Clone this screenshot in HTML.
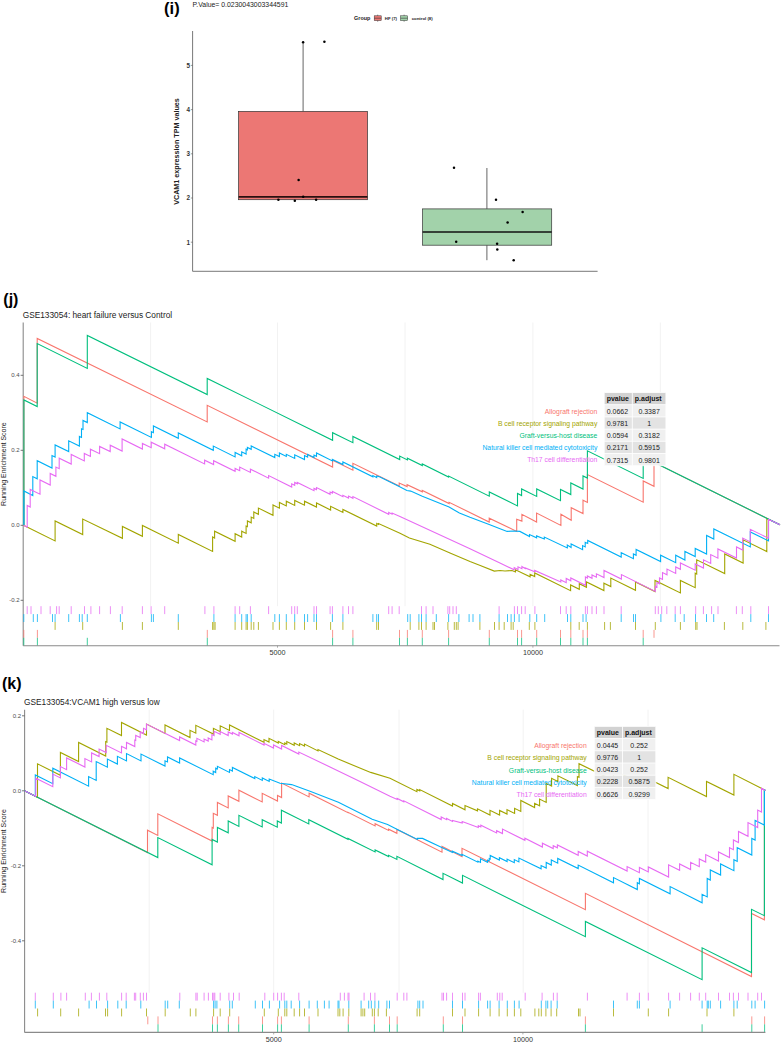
<!DOCTYPE html>
<html><head><meta charset="utf-8"><style>
html,body{margin:0;padding:0;background:#fff;}
svg{display:block;font-family:"Liberation Sans",sans-serif;}
</style></head><body>
<svg width="781" height="1043" viewBox="0 0 781 1043">
<rect width="781" height="1043" fill="#fff"/>
<text x="164.1" y="13.7" font-size="16.5" font-weight="bold" fill="#000">(i)</text>
<text x="192.6" y="6.7" font-size="6.9" fill="#222">P.Value= 0.0230043003344591</text>
<text x="354.1" y="19.9" font-size="5.4" font-weight="bold" fill="#222">Group</text>
<line x1="377.7" y1="14.6" x2="377.7" y2="21.8" stroke="#333" stroke-width="0.5"/>
<rect x="374.2" y="15.8" width="7" height="4.8" fill="#EC7774" stroke="#333" stroke-width="0.5"/>
<line x1="374.2" y1="18.2" x2="381.2" y2="18.2" stroke="#333" stroke-width="0.6"/>
<line x1="404.09999999999997" y1="14.6" x2="404.09999999999997" y2="21.8" stroke="#333" stroke-width="0.5"/>
<rect x="400.59999999999997" y="15.8" width="7" height="4.8" fill="#A2D2AA" stroke="#333" stroke-width="0.5"/>
<line x1="400.59999999999997" y1="18.2" x2="407.59999999999997" y2="18.2" stroke="#333" stroke-width="0.6"/>
<text x="384.8" y="19.5" font-size="4.3" font-weight="bold" fill="#222">HF (7)</text>
<text x="411.7" y="19.5" font-size="4.3" font-weight="bold" fill="#222">control (8)</text>
<line x1="192.6" y1="31" x2="192.6" y2="271.3" stroke="#555" stroke-width="0.8"/>
<line x1="192.6" y1="271.3" x2="597.6" y2="271.3" stroke="#555" stroke-width="0.8"/>
<line x1="190.8" y1="242.2" x2="192.6" y2="242.2" stroke="#555" stroke-width="0.6"/>
<text x="189.9" y="244.5" font-size="6.3" font-weight="bold" fill="#333" text-anchor="end">1</text>
<line x1="190.8" y1="198.0" x2="192.6" y2="198.0" stroke="#555" stroke-width="0.6"/>
<text x="189.9" y="200.3" font-size="6.3" font-weight="bold" fill="#333" text-anchor="end">2</text>
<line x1="190.8" y1="153.8" x2="192.6" y2="153.8" stroke="#555" stroke-width="0.6"/>
<text x="189.9" y="156.1" font-size="6.3" font-weight="bold" fill="#333" text-anchor="end">3</text>
<line x1="190.8" y1="109.6" x2="192.6" y2="109.6" stroke="#555" stroke-width="0.6"/>
<text x="189.9" y="111.9" font-size="6.3" font-weight="bold" fill="#333" text-anchor="end">4</text>
<line x1="190.8" y1="65.4" x2="192.6" y2="65.4" stroke="#555" stroke-width="0.6"/>
<text x="189.9" y="67.7" font-size="6.3" font-weight="bold" fill="#333" text-anchor="end">5</text>
<text transform="translate(178.7,151.5) rotate(-90)" font-size="7.2" font-weight="bold" fill="#222" text-anchor="middle">VCAM1 expression TPM values</text>
<line x1="303.1" y1="42.3" x2="303.1" y2="111.6" stroke="#555" stroke-width="0.9"/>
<rect x="238.6" y="111.4" width="128.9" height="88.3" fill="#EC7774" stroke="#333" stroke-width="0.7"/>
<line x1="238.6" y1="196.8" x2="367.5" y2="196.8" stroke="#2a1010" stroke-width="1.7"/>
<line x1="486.9" y1="168" x2="486.9" y2="208.9" stroke="#555" stroke-width="0.9"/>
<line x1="486.9" y1="245.2" x2="486.9" y2="260.2" stroke="#555" stroke-width="0.9"/>
<rect x="422.6" y="208.9" width="129.1" height="36.3" fill="#A2D2AA" stroke="#333" stroke-width="0.7"/>
<line x1="422.6" y1="232" x2="551.7" y2="232" stroke="#111" stroke-width="1.3"/>
<circle cx="303.1" cy="42.3" r="1.25" fill="#000"/>
<circle cx="324.4" cy="41.8" r="1.25" fill="#000"/>
<circle cx="298.6" cy="180.1" r="1.25" fill="#000"/>
<circle cx="278.4" cy="199.7" r="1.25" fill="#000"/>
<circle cx="294.8" cy="200.8" r="1.25" fill="#000"/>
<circle cx="303.2" cy="196.8" r="1.25" fill="#000"/>
<circle cx="316.1" cy="199.7" r="1.25" fill="#000"/>
<circle cx="454" cy="167.7" r="1.25" fill="#000"/>
<circle cx="496" cy="199.7" r="1.25" fill="#000"/>
<circle cx="522.6" cy="212.1" r="1.25" fill="#000"/>
<circle cx="507.6" cy="222.6" r="1.25" fill="#000"/>
<circle cx="456.2" cy="241.7" r="1.25" fill="#000"/>
<circle cx="497.1" cy="243.8" r="1.25" fill="#000"/>
<circle cx="497.3" cy="249.5" r="1.25" fill="#000"/>
<circle cx="513.7" cy="260.2" r="1.25" fill="#000"/>
<line x1="150.6" y1="322.5" x2="150.6" y2="606.2" stroke="#f1f1f1" stroke-width="0.9"/>
<line x1="277.5" y1="322.5" x2="277.5" y2="606.2" stroke="#f1f1f1" stroke-width="0.9"/>
<line x1="405.1" y1="322.5" x2="405.1" y2="606.2" stroke="#f1f1f1" stroke-width="0.9"/>
<line x1="532.9" y1="322.5" x2="532.9" y2="606.2" stroke="#f1f1f1" stroke-width="0.9"/>
<line x1="660.4" y1="322.5" x2="660.4" y2="606.2" stroke="#f1f1f1" stroke-width="0.9"/>
<line x1="23.2" y1="322.5" x2="23.2" y2="645.7" stroke="#8a8a8a" stroke-width="1.1"/>
<path d="M23.9,525.3L23.9,525.3L23.9,396.3L37.2,403.2L37.2,338.4L207.2,421.9L207.2,405.3L332.6,467.1L332.6,460.2L352.9,470.2L352.9,463.3L399.2,486.0L399.2,483.1L407.1,486.6L407.1,484.7L422.3,491.8L422.3,490.5L449.1,503.5L449.1,502.3L489.2,522.0L489.2,518.2L516.7,531.4L516.7,519.2L521.9,521.1L521.9,514.3L536.6,522.0L536.6,513.1L560.9,525.4L560.9,514.3L571.2,520.2L571.2,507.7L583.0,513.5L583.0,500.2L587.4,502.4L587.4,474.6L643.2,502.2L643.2,481.0L654.0,486.3L654.0,462.3L780.0,524.8" fill="none" stroke="#F8766D" stroke-width="1.1" stroke-linejoin="miter"/>

<path d="M23.5,525.3L55.1,540.9L55.1,520.9L82.7,534.5L82.7,519.1L122.4,538.3L122.4,526.5L142.4,536.3L142.4,525.5L178.3,543.2L178.3,534.5L212.6,551.4L212.6,537.0L214.6,538.0L214.6,531.2L235.1,541.3L235.1,533.7L241.7,537.0L241.7,531.2L246.1,533.4L246.1,526.0L247.4,526.6L247.4,520.9L251.2,522.8L251.2,517.1L253.8,518.4L253.8,512.0L258.4,514.3L258.4,508.1L273.0,515.3L273.0,505.0L279.4,508.2L279.4,502.5L286.3,505.9L286.3,501.2L294.7,505.4L294.7,500.4L304.5,505.2L304.5,501.2L316.5,507.1L316.5,503.0L330.6,510.0L330.6,506.3L342.9,512.4L342.9,509.4L376.7,526.1L376.7,523.5L378.5,524.4L378.5,523.5L400.0,533.2L409.4,537.9L429.9,544.3L450.0,553.0L470.0,561.5L479.6,565.3L494.3,571.1L500.0,570.5L505.0,571.0L512.0,570.5L515.5,572.0L515.5,569.8L530.1,576.8L530.1,574.3L534.7,576.6L534.7,573.0L570.6,590.7L570.6,585.0L579.3,589.3L579.3,583.7L586.5,587.3L586.5,582.0L603.9,590.6L603.9,583.2L610.8,586.6L610.8,578.1L635.5,590.3L635.5,582.0L655.0,591.6L655.0,580.4L680.4,592.9L680.4,580.4L695.2,587.7L695.2,573.2L696.7,574.0L696.7,559.8L724.7,573.6L724.7,554.0L743.1,563.1L743.1,539.8L766.8,551.5L766.8,518.6L780.0,524.8" fill="none" stroke="#A3A500" stroke-width="1.1" stroke-linejoin="miter"/>

<path d="M23.9,525.3L23.9,525.3L23.9,399.9L37.2,406.6L37.2,343.6L87.3,368.4L87.3,335.4L207.2,394.6L207.2,378.4L332.6,440.3L332.6,432.7L352.9,442.7L352.9,436.4L399.7,459.5L399.7,456.1L407.4,459.9L407.4,458.2L422.3,465.6L422.3,464.0L448.6,477.0L448.6,476.1L489.3,496.2L489.3,492.0L517.5,505.9L517.5,493.5L521.6,495.5L521.6,488.9L536.7,496.4L536.7,488.9L560.5,500.7L560.5,489.4L570.8,494.5L570.8,483.0L583.0,489.0L583.0,475.9L587.4,478.1L587.4,450.8L643.2,478.4L643.2,457.0L767.2,518.4L780.0,524.8" fill="none" stroke="#00BF7D" stroke-width="1.1" stroke-linejoin="miter"/>

<path d="M23.9,525.3L23.9,525.3L23.9,491.0L32.8,495.6L32.8,476.6L37.2,478.8L37.2,460.7L52.0,468.0L52.0,455.6L55.1,457.1L55.1,444.9L68.7,451.6L68.7,440.8L79.4,446.1L79.4,436.4L81.5,437.4L81.5,428.8L83.0,429.5L83.0,420.4L87.3,422.5L87.3,412.7L120.1,428.9L120.1,421.9L151.4,437.4L151.4,431.7L153.4,432.7L153.4,426.0L178.3,438.3L178.3,433.0L213.3,450.3L213.3,446.1L235.1,456.9L235.1,452.5L241.7,455.8L241.7,451.8L246.1,454.0L246.1,449.2L247.4,449.8L247.4,447.4L251.2,449.3L251.2,445.9L274.8,457.6L274.8,454.3L279.4,456.6L279.4,453.0L286.3,456.4L286.3,454.3L294.7,458.4L294.7,454.8L304.5,459.6L304.5,455.6L307.6,457.1L307.6,454.3L314.0,457.5L314.0,455.1L316.5,456.3L316.5,453.0L332.4,460.9L332.4,459.4L342.9,464.6L342.9,462.0L372.9,476.8L372.9,475.6L376.7,477.5L376.7,476.0L380.0,477.0L399.2,486.4L406.9,490.5L410.7,491.1L422.3,496.2L449.1,507.1L459.4,512.9L470.0,517.3L489.2,524.6L499.4,528.4L507.1,531.4L513.5,531.0L519.9,531.4L529.5,536.5L529.5,534.6L536.6,537.8L536.6,535.9L544.3,539.0L544.3,537.1L567.3,548.0L567.3,545.1L571.1,547.5L571.1,544.0L582.6,549.7L582.6,545.6L585.2,546.9L585.2,542.3L587.7,543.5L587.7,540.5L621.2,557.0L621.2,552.7L633.4,558.7L633.4,554.0L636.1,555.3L636.1,549.5L660.6,561.6L660.6,555.2L675.7,562.7L675.7,555.2L684.9,560.0L684.9,551.5L695.2,556.6L695.2,548.4L706.6,554.0L706.6,535.5L713.8,539.1L713.8,528.9L750.3,546.9L750.3,532.0L768.5,540.9L768.5,519.3L780.0,524.8" fill="none" stroke="#00B0F6" stroke-width="1.1" stroke-linejoin="miter"/>

<path d="M23.5,525.3L27.2,527.2L27.2,505.5L30.2,507.0L30.2,489.4L40.0,494.2L40.0,480.0L50.2,485.0L50.2,473.5L55.9,476.3L55.9,467.1L59.2,468.7L59.2,458.2L71.2,464.1L71.2,454.4L84.3,460.9L84.3,453.4L90.4,456.4L90.4,449.2L99.6,453.7L99.6,446.4L110.2,451.6L110.2,445.2L122.1,451.1L122.1,439.0L142.4,449.0L142.4,443.4L151.2,447.7L151.2,442.2L164.7,448.8L164.7,444.2L204.6,463.9L204.6,460.2L213.6,464.6L213.6,460.7L235.1,471.3L235.1,468.4L239.7,470.7L239.7,467.1L250.4,472.4L250.4,469.2L268.6,478.2L268.6,475.6L291.7,487.0L291.7,483.8L294.7,485.3L294.7,482.5L297.3,483.8L297.3,482.5L314.0,490.7L314.0,488.4L316.5,489.6L316.5,487.6L330.1,494.3L330.1,492.0L332.4,493.1L332.4,491.5L342.9,496.7L342.9,495.3L348.5,498.0L348.5,496.1L352.9,498.3L352.9,496.6L388.7,514.3L388.7,512.5L392.1,514.2L392.1,513.0L400.5,516.7L470.0,548.7L499.4,562.7L514.2,569.8L514.2,567.6L518.0,569.5L518.0,566.8L521.9,568.7L521.9,566.5L525.1,568.5L525.1,567.9L534.7,571.7L534.7,570.4L560.8,582.0L560.8,580.0L566.2,582.7L566.2,578.5L570.8,580.8L570.8,578.0L585.4,585.3L585.4,577.0L587.4,578.0L587.4,576.0L592.0,578.3L592.0,575.0L596.4,577.2L596.4,573.8L604.0,577.6L604.0,570.5L621.4,579.0L621.4,574.6L655.3,591.4L655.3,586.2L656.9,587.0L656.9,582.5L659.5,583.8L659.5,577.9L662.5,579.4L662.5,572.6L667.0,574.8L667.0,569.1L675.7,573.4L675.7,567.0L680.4,569.3L680.4,562.9L695.2,570.2L695.2,563.9L703.5,568.0L703.5,559.8L710.7,563.4L710.7,554.6L717.9,558.2L717.9,548.9L736.5,558.1L736.5,547.0L742.7,550.1L742.7,538.1L750.3,541.9L750.3,529.3L768.5,538.2L768.5,519.3L780.0,524.8" fill="none" stroke="#E76BF3" stroke-width="1.1" stroke-linejoin="miter"/>

<line x1="27.2" y1="606.2" x2="27.2" y2="614.1" stroke="#E76BF3" stroke-width="1" opacity="0.75"/>
<line x1="31.0" y1="606.2" x2="31.0" y2="614.1" stroke="#E76BF3" stroke-width="1" opacity="0.75"/>
<line x1="41.0" y1="606.2" x2="41.0" y2="614.1" stroke="#E76BF3" stroke-width="1" opacity="0.75"/>
<line x1="50.2" y1="606.2" x2="50.2" y2="614.1" stroke="#E76BF3" stroke-width="1" opacity="0.75"/>
<line x1="56.6" y1="606.2" x2="56.6" y2="614.1" stroke="#E76BF3" stroke-width="1" opacity="0.75"/>
<line x1="59.2" y1="606.2" x2="59.2" y2="614.1" stroke="#E76BF3" stroke-width="1" opacity="0.75"/>
<line x1="71.2" y1="606.2" x2="71.2" y2="614.1" stroke="#E76BF3" stroke-width="1" opacity="0.75"/>
<line x1="84.5" y1="606.2" x2="84.5" y2="614.1" stroke="#E76BF3" stroke-width="1" opacity="0.75"/>
<line x1="90.9" y1="606.2" x2="90.9" y2="614.1" stroke="#E76BF3" stroke-width="1" opacity="0.75"/>
<line x1="99.6" y1="606.2" x2="99.6" y2="614.1" stroke="#E76BF3" stroke-width="1" opacity="0.75"/>
<line x1="110.4" y1="606.2" x2="110.4" y2="614.1" stroke="#E76BF3" stroke-width="1" opacity="0.75"/>
<line x1="122.2" y1="606.2" x2="122.2" y2="614.1" stroke="#E76BF3" stroke-width="1" opacity="0.75"/>
<line x1="142.4" y1="606.2" x2="142.4" y2="614.1" stroke="#E76BF3" stroke-width="1" opacity="0.75"/>
<line x1="151.1" y1="606.2" x2="151.1" y2="614.1" stroke="#E76BF3" stroke-width="1" opacity="0.75"/>
<line x1="164.7" y1="606.2" x2="164.7" y2="614.1" stroke="#E76BF3" stroke-width="1" opacity="0.75"/>
<line x1="204.9" y1="606.2" x2="204.9" y2="614.1" stroke="#E76BF3" stroke-width="1" opacity="0.75"/>
<line x1="213.9" y1="606.2" x2="213.9" y2="614.1" stroke="#E76BF3" stroke-width="1" opacity="0.75"/>
<line x1="235.1" y1="606.2" x2="235.1" y2="614.1" stroke="#E76BF3" stroke-width="1" opacity="0.75"/>
<line x1="239.7" y1="606.2" x2="239.7" y2="614.1" stroke="#E76BF3" stroke-width="1" opacity="0.75"/>
<line x1="250.4" y1="606.2" x2="250.4" y2="614.1" stroke="#E76BF3" stroke-width="1" opacity="0.75"/>
<line x1="268.6" y1="606.2" x2="268.6" y2="614.1" stroke="#E76BF3" stroke-width="1" opacity="0.75"/>
<line x1="291.7" y1="606.2" x2="291.7" y2="614.1" stroke="#E76BF3" stroke-width="1" opacity="0.75"/>
<line x1="294.7" y1="606.2" x2="294.7" y2="614.1" stroke="#E76BF3" stroke-width="1" opacity="0.75"/>
<line x1="297.3" y1="606.2" x2="297.3" y2="614.1" stroke="#E76BF3" stroke-width="1" opacity="0.75"/>
<line x1="314.0" y1="606.2" x2="314.0" y2="614.1" stroke="#E76BF3" stroke-width="1" opacity="0.75"/>
<line x1="316.5" y1="606.2" x2="316.5" y2="614.1" stroke="#E76BF3" stroke-width="1" opacity="0.75"/>
<line x1="330.1" y1="606.2" x2="330.1" y2="614.1" stroke="#E76BF3" stroke-width="1" opacity="0.75"/>
<line x1="332.4" y1="606.2" x2="332.4" y2="614.1" stroke="#E76BF3" stroke-width="1" opacity="0.75"/>
<line x1="342.9" y1="606.2" x2="342.9" y2="614.1" stroke="#E76BF3" stroke-width="1" opacity="0.75"/>
<line x1="348.5" y1="606.2" x2="348.5" y2="614.1" stroke="#E76BF3" stroke-width="1" opacity="0.75"/>
<line x1="352.9" y1="606.2" x2="352.9" y2="614.1" stroke="#E76BF3" stroke-width="1" opacity="0.75"/>
<line x1="388.7" y1="606.2" x2="388.7" y2="614.1" stroke="#E76BF3" stroke-width="1" opacity="0.75"/>
<line x1="392.1" y1="606.2" x2="392.1" y2="614.1" stroke="#E76BF3" stroke-width="1" opacity="0.75"/>
<line x1="399.2" y1="606.2" x2="399.2" y2="614.1" stroke="#E76BF3" stroke-width="1" opacity="0.75"/>
<line x1="421.5" y1="606.2" x2="421.5" y2="614.1" stroke="#E76BF3" stroke-width="1" opacity="0.75"/>
<line x1="426.1" y1="606.2" x2="426.1" y2="614.1" stroke="#E76BF3" stroke-width="1" opacity="0.75"/>
<line x1="433.0" y1="606.2" x2="433.0" y2="614.1" stroke="#E76BF3" stroke-width="1" opacity="0.75"/>
<line x1="447.9" y1="606.2" x2="447.9" y2="614.1" stroke="#E76BF3" stroke-width="1" opacity="0.75"/>
<line x1="449.7" y1="606.2" x2="449.7" y2="614.1" stroke="#E76BF3" stroke-width="1" opacity="0.75"/>
<line x1="453.0" y1="606.2" x2="453.0" y2="614.1" stroke="#E76BF3" stroke-width="1" opacity="0.75"/>
<line x1="456.3" y1="606.2" x2="456.3" y2="614.1" stroke="#E76BF3" stroke-width="1" opacity="0.75"/>
<line x1="499.1" y1="606.2" x2="499.1" y2="614.1" stroke="#E76BF3" stroke-width="1" opacity="0.75"/>
<line x1="514.4" y1="606.2" x2="514.4" y2="614.1" stroke="#E76BF3" stroke-width="1" opacity="0.75"/>
<line x1="517.5" y1="606.2" x2="517.5" y2="614.1" stroke="#E76BF3" stroke-width="1" opacity="0.75"/>
<line x1="521.6" y1="606.2" x2="521.6" y2="614.1" stroke="#E76BF3" stroke-width="1" opacity="0.75"/>
<line x1="525.2" y1="606.2" x2="525.2" y2="614.1" stroke="#E76BF3" stroke-width="1" opacity="0.75"/>
<line x1="534.9" y1="606.2" x2="534.9" y2="614.1" stroke="#E76BF3" stroke-width="1" opacity="0.75"/>
<line x1="560.5" y1="606.2" x2="560.5" y2="614.1" stroke="#E76BF3" stroke-width="1" opacity="0.75"/>
<line x1="566.2" y1="606.2" x2="566.2" y2="614.1" stroke="#E76BF3" stroke-width="1" opacity="0.75"/>
<line x1="570.8" y1="606.2" x2="570.8" y2="614.1" stroke="#E76BF3" stroke-width="1" opacity="0.75"/>
<line x1="585.4" y1="606.2" x2="585.4" y2="614.1" stroke="#E76BF3" stroke-width="1" opacity="0.75"/>
<line x1="587.4" y1="606.2" x2="587.4" y2="614.1" stroke="#E76BF3" stroke-width="1" opacity="0.75"/>
<line x1="592.0" y1="606.2" x2="592.0" y2="614.1" stroke="#E76BF3" stroke-width="1" opacity="0.75"/>
<line x1="596.4" y1="606.2" x2="596.4" y2="614.1" stroke="#E76BF3" stroke-width="1" opacity="0.75"/>
<line x1="604.0" y1="606.2" x2="604.0" y2="614.1" stroke="#E76BF3" stroke-width="1" opacity="0.75"/>
<line x1="621.2" y1="606.2" x2="621.2" y2="614.1" stroke="#E76BF3" stroke-width="1" opacity="0.75"/>
<line x1="655.3" y1="606.2" x2="655.3" y2="614.1" stroke="#E76BF3" stroke-width="1" opacity="0.75"/>
<line x1="658.3" y1="606.2" x2="658.3" y2="614.1" stroke="#E76BF3" stroke-width="1" opacity="0.75"/>
<line x1="661.7" y1="606.2" x2="661.7" y2="614.1" stroke="#E76BF3" stroke-width="1" opacity="0.75"/>
<line x1="666.8" y1="606.2" x2="666.8" y2="614.1" stroke="#E76BF3" stroke-width="1" opacity="0.75"/>
<line x1="675.2" y1="606.2" x2="675.2" y2="614.1" stroke="#E76BF3" stroke-width="1" opacity="0.75"/>
<line x1="680.4" y1="606.2" x2="680.4" y2="614.1" stroke="#E76BF3" stroke-width="1" opacity="0.75"/>
<line x1="695.7" y1="606.2" x2="695.7" y2="614.1" stroke="#E76BF3" stroke-width="1" opacity="0.75"/>
<line x1="703.4" y1="606.2" x2="703.4" y2="614.1" stroke="#E76BF3" stroke-width="1" opacity="0.75"/>
<line x1="711.6" y1="606.2" x2="711.6" y2="614.1" stroke="#E76BF3" stroke-width="1" opacity="0.75"/>
<line x1="718.0" y1="606.2" x2="718.0" y2="614.1" stroke="#E76BF3" stroke-width="1" opacity="0.75"/>
<line x1="736.4" y1="606.2" x2="736.4" y2="614.1" stroke="#E76BF3" stroke-width="1" opacity="0.75"/>
<line x1="742.3" y1="606.2" x2="742.3" y2="614.1" stroke="#E76BF3" stroke-width="1" opacity="0.75"/>
<line x1="750.8" y1="606.2" x2="750.8" y2="614.1" stroke="#E76BF3" stroke-width="1" opacity="0.75"/>
<line x1="768.5" y1="606.2" x2="768.5" y2="614.1" stroke="#E76BF3" stroke-width="1" opacity="0.75"/>
<line x1="23.8" y1="614.1" x2="23.8" y2="622.0" stroke="#00B0F6" stroke-width="1" opacity="0.75"/>
<line x1="33.3" y1="614.1" x2="33.3" y2="622.0" stroke="#00B0F6" stroke-width="1" opacity="0.75"/>
<line x1="37.4" y1="614.1" x2="37.4" y2="622.0" stroke="#00B0F6" stroke-width="1" opacity="0.75"/>
<line x1="52.5" y1="614.1" x2="52.5" y2="622.0" stroke="#00B0F6" stroke-width="1" opacity="0.75"/>
<line x1="55.1" y1="614.1" x2="55.1" y2="622.0" stroke="#00B0F6" stroke-width="1" opacity="0.75"/>
<line x1="68.7" y1="614.1" x2="68.7" y2="622.0" stroke="#00B0F6" stroke-width="1" opacity="0.75"/>
<line x1="79.4" y1="614.1" x2="79.4" y2="622.0" stroke="#00B0F6" stroke-width="1" opacity="0.75"/>
<line x1="82.2" y1="614.1" x2="82.2" y2="622.0" stroke="#00B0F6" stroke-width="1" opacity="0.75"/>
<line x1="87.3" y1="614.1" x2="87.3" y2="622.0" stroke="#00B0F6" stroke-width="1" opacity="0.75"/>
<line x1="120.4" y1="614.1" x2="120.4" y2="622.0" stroke="#00B0F6" stroke-width="1" opacity="0.75"/>
<line x1="151.4" y1="614.1" x2="151.4" y2="622.0" stroke="#00B0F6" stroke-width="1" opacity="0.75"/>
<line x1="153.4" y1="614.1" x2="153.4" y2="622.0" stroke="#00B0F6" stroke-width="1" opacity="0.75"/>
<line x1="178.3" y1="614.1" x2="178.3" y2="622.0" stroke="#00B0F6" stroke-width="1" opacity="0.75"/>
<line x1="213.9" y1="614.1" x2="213.9" y2="622.0" stroke="#00B0F6" stroke-width="1" opacity="0.75"/>
<line x1="235.1" y1="614.1" x2="235.1" y2="622.0" stroke="#00B0F6" stroke-width="1" opacity="0.75"/>
<line x1="241.7" y1="614.1" x2="241.7" y2="622.0" stroke="#00B0F6" stroke-width="1" opacity="0.75"/>
<line x1="246.1" y1="614.1" x2="246.1" y2="622.0" stroke="#00B0F6" stroke-width="1" opacity="0.75"/>
<line x1="247.4" y1="614.1" x2="247.4" y2="622.0" stroke="#00B0F6" stroke-width="1" opacity="0.75"/>
<line x1="251.2" y1="614.1" x2="251.2" y2="622.0" stroke="#00B0F6" stroke-width="1" opacity="0.75"/>
<line x1="274.8" y1="614.1" x2="274.8" y2="622.0" stroke="#00B0F6" stroke-width="1" opacity="0.75"/>
<line x1="279.4" y1="614.1" x2="279.4" y2="622.0" stroke="#00B0F6" stroke-width="1" opacity="0.75"/>
<line x1="286.3" y1="614.1" x2="286.3" y2="622.0" stroke="#00B0F6" stroke-width="1" opacity="0.75"/>
<line x1="294.7" y1="614.1" x2="294.7" y2="622.0" stroke="#00B0F6" stroke-width="1" opacity="0.75"/>
<line x1="304.5" y1="614.1" x2="304.5" y2="622.0" stroke="#00B0F6" stroke-width="1" opacity="0.75"/>
<line x1="307.6" y1="614.1" x2="307.6" y2="622.0" stroke="#00B0F6" stroke-width="1" opacity="0.75"/>
<line x1="314.0" y1="614.1" x2="314.0" y2="622.0" stroke="#00B0F6" stroke-width="1" opacity="0.75"/>
<line x1="316.5" y1="614.1" x2="316.5" y2="622.0" stroke="#00B0F6" stroke-width="1" opacity="0.75"/>
<line x1="332.4" y1="614.1" x2="332.4" y2="622.0" stroke="#00B0F6" stroke-width="1" opacity="0.75"/>
<line x1="342.9" y1="614.1" x2="342.9" y2="622.0" stroke="#00B0F6" stroke-width="1" opacity="0.75"/>
<line x1="372.9" y1="614.1" x2="372.9" y2="622.0" stroke="#00B0F6" stroke-width="1" opacity="0.75"/>
<line x1="376.7" y1="614.1" x2="376.7" y2="622.0" stroke="#00B0F6" stroke-width="1" opacity="0.75"/>
<line x1="378.5" y1="614.1" x2="378.5" y2="622.0" stroke="#00B0F6" stroke-width="1" opacity="0.75"/>
<line x1="407.7" y1="614.1" x2="407.7" y2="622.0" stroke="#00B0F6" stroke-width="1" opacity="0.75"/>
<line x1="410.2" y1="614.1" x2="410.2" y2="622.0" stroke="#00B0F6" stroke-width="1" opacity="0.75"/>
<line x1="418.9" y1="614.1" x2="418.9" y2="622.0" stroke="#00B0F6" stroke-width="1" opacity="0.75"/>
<line x1="421.5" y1="614.1" x2="421.5" y2="622.0" stroke="#00B0F6" stroke-width="1" opacity="0.75"/>
<line x1="426.1" y1="614.1" x2="426.1" y2="622.0" stroke="#00B0F6" stroke-width="1" opacity="0.75"/>
<line x1="436.3" y1="614.1" x2="436.3" y2="622.0" stroke="#00B0F6" stroke-width="1" opacity="0.75"/>
<line x1="448.6" y1="614.1" x2="448.6" y2="622.0" stroke="#00B0F6" stroke-width="1" opacity="0.75"/>
<line x1="458.9" y1="614.1" x2="458.9" y2="622.0" stroke="#00B0F6" stroke-width="1" opacity="0.75"/>
<line x1="469.1" y1="614.1" x2="469.1" y2="622.0" stroke="#00B0F6" stroke-width="1" opacity="0.75"/>
<line x1="473.0" y1="614.1" x2="473.0" y2="622.0" stroke="#00B0F6" stroke-width="1" opacity="0.75"/>
<line x1="479.9" y1="614.1" x2="479.9" y2="622.0" stroke="#00B0F6" stroke-width="1" opacity="0.75"/>
<line x1="499.1" y1="614.1" x2="499.1" y2="622.0" stroke="#00B0F6" stroke-width="1" opacity="0.75"/>
<line x1="507.5" y1="614.1" x2="507.5" y2="622.0" stroke="#00B0F6" stroke-width="1" opacity="0.75"/>
<line x1="511.1" y1="614.1" x2="511.1" y2="622.0" stroke="#00B0F6" stroke-width="1" opacity="0.75"/>
<line x1="514.4" y1="614.1" x2="514.4" y2="622.0" stroke="#00B0F6" stroke-width="1" opacity="0.75"/>
<line x1="519.1" y1="614.1" x2="519.1" y2="622.0" stroke="#00B0F6" stroke-width="1" opacity="0.75"/>
<line x1="529.8" y1="614.1" x2="529.8" y2="622.0" stroke="#00B0F6" stroke-width="1" opacity="0.75"/>
<line x1="536.7" y1="614.1" x2="536.7" y2="622.0" stroke="#00B0F6" stroke-width="1" opacity="0.75"/>
<line x1="544.7" y1="614.1" x2="544.7" y2="622.0" stroke="#00B0F6" stroke-width="1" opacity="0.75"/>
<line x1="567.5" y1="614.1" x2="567.5" y2="622.0" stroke="#00B0F6" stroke-width="1" opacity="0.75"/>
<line x1="570.8" y1="614.1" x2="570.8" y2="622.0" stroke="#00B0F6" stroke-width="1" opacity="0.75"/>
<line x1="583.0" y1="614.1" x2="583.0" y2="622.0" stroke="#00B0F6" stroke-width="1" opacity="0.75"/>
<line x1="586.1" y1="614.1" x2="586.1" y2="622.0" stroke="#00B0F6" stroke-width="1" opacity="0.75"/>
<line x1="621.2" y1="614.1" x2="621.2" y2="622.0" stroke="#00B0F6" stroke-width="1" opacity="0.75"/>
<line x1="633.5" y1="614.1" x2="633.5" y2="622.0" stroke="#00B0F6" stroke-width="1" opacity="0.75"/>
<line x1="635.5" y1="614.1" x2="635.5" y2="622.0" stroke="#00B0F6" stroke-width="1" opacity="0.75"/>
<line x1="660.9" y1="614.1" x2="660.9" y2="622.0" stroke="#00B0F6" stroke-width="1" opacity="0.75"/>
<line x1="675.2" y1="614.1" x2="675.2" y2="622.0" stroke="#00B0F6" stroke-width="1" opacity="0.75"/>
<line x1="684.2" y1="614.1" x2="684.2" y2="622.0" stroke="#00B0F6" stroke-width="1" opacity="0.75"/>
<line x1="695.5" y1="614.1" x2="695.5" y2="622.0" stroke="#00B0F6" stroke-width="1" opacity="0.75"/>
<line x1="706.5" y1="614.1" x2="706.5" y2="622.0" stroke="#00B0F6" stroke-width="1" opacity="0.75"/>
<line x1="713.7" y1="614.1" x2="713.7" y2="622.0" stroke="#00B0F6" stroke-width="1" opacity="0.75"/>
<line x1="750.8" y1="614.1" x2="750.8" y2="622.0" stroke="#00B0F6" stroke-width="1" opacity="0.75"/>
<line x1="768.5" y1="614.1" x2="768.5" y2="622.0" stroke="#00B0F6" stroke-width="1" opacity="0.75"/>
<line x1="55.1" y1="622.0" x2="55.1" y2="629.9" stroke="#A3A500" stroke-width="1" opacity="0.75"/>
<line x1="82.7" y1="622.0" x2="82.7" y2="629.9" stroke="#A3A500" stroke-width="1" opacity="0.75"/>
<line x1="122.4" y1="622.0" x2="122.4" y2="629.9" stroke="#A3A500" stroke-width="1" opacity="0.75"/>
<line x1="142.4" y1="622.0" x2="142.4" y2="629.9" stroke="#A3A500" stroke-width="1" opacity="0.75"/>
<line x1="178.3" y1="622.0" x2="178.3" y2="629.9" stroke="#A3A500" stroke-width="1" opacity="0.75"/>
<line x1="212.6" y1="622.0" x2="212.6" y2="629.9" stroke="#A3A500" stroke-width="1" opacity="0.75"/>
<line x1="213.9" y1="622.0" x2="213.9" y2="629.9" stroke="#A3A500" stroke-width="1" opacity="0.75"/>
<line x1="215.1" y1="622.0" x2="215.1" y2="629.9" stroke="#A3A500" stroke-width="1" opacity="0.75"/>
<line x1="235.1" y1="622.0" x2="235.1" y2="629.9" stroke="#A3A500" stroke-width="1" opacity="0.75"/>
<line x1="241.7" y1="622.0" x2="241.7" y2="629.9" stroke="#A3A500" stroke-width="1" opacity="0.75"/>
<line x1="246.1" y1="622.0" x2="246.1" y2="629.9" stroke="#A3A500" stroke-width="1" opacity="0.75"/>
<line x1="247.4" y1="622.0" x2="247.4" y2="629.9" stroke="#A3A500" stroke-width="1" opacity="0.75"/>
<line x1="251.2" y1="622.0" x2="251.2" y2="629.9" stroke="#A3A500" stroke-width="1" opacity="0.75"/>
<line x1="253.8" y1="622.0" x2="253.8" y2="629.9" stroke="#A3A500" stroke-width="1" opacity="0.75"/>
<line x1="258.4" y1="622.0" x2="258.4" y2="629.9" stroke="#A3A500" stroke-width="1" opacity="0.75"/>
<line x1="273.0" y1="622.0" x2="273.0" y2="629.9" stroke="#A3A500" stroke-width="1" opacity="0.75"/>
<line x1="279.4" y1="622.0" x2="279.4" y2="629.9" stroke="#A3A500" stroke-width="1" opacity="0.75"/>
<line x1="286.3" y1="622.0" x2="286.3" y2="629.9" stroke="#A3A500" stroke-width="1" opacity="0.75"/>
<line x1="294.7" y1="622.0" x2="294.7" y2="629.9" stroke="#A3A500" stroke-width="1" opacity="0.75"/>
<line x1="304.5" y1="622.0" x2="304.5" y2="629.9" stroke="#A3A500" stroke-width="1" opacity="0.75"/>
<line x1="316.5" y1="622.0" x2="316.5" y2="629.9" stroke="#A3A500" stroke-width="1" opacity="0.75"/>
<line x1="330.6" y1="622.0" x2="330.6" y2="629.9" stroke="#A3A500" stroke-width="1" opacity="0.75"/>
<line x1="342.9" y1="622.0" x2="342.9" y2="629.9" stroke="#A3A500" stroke-width="1" opacity="0.75"/>
<line x1="376.7" y1="622.0" x2="376.7" y2="629.9" stroke="#A3A500" stroke-width="1" opacity="0.75"/>
<line x1="378.5" y1="622.0" x2="378.5" y2="629.9" stroke="#A3A500" stroke-width="1" opacity="0.75"/>
<line x1="410.2" y1="622.0" x2="410.2" y2="629.9" stroke="#A3A500" stroke-width="1" opacity="0.75"/>
<line x1="418.9" y1="622.0" x2="418.9" y2="629.9" stroke="#A3A500" stroke-width="1" opacity="0.75"/>
<line x1="421.5" y1="622.0" x2="421.5" y2="629.9" stroke="#A3A500" stroke-width="1" opacity="0.75"/>
<line x1="426.1" y1="622.0" x2="426.1" y2="629.9" stroke="#A3A500" stroke-width="1" opacity="0.75"/>
<line x1="433.0" y1="622.0" x2="433.0" y2="629.9" stroke="#A3A500" stroke-width="1" opacity="0.75"/>
<line x1="434.5" y1="622.0" x2="434.5" y2="629.9" stroke="#A3A500" stroke-width="1" opacity="0.75"/>
<line x1="447.9" y1="622.0" x2="447.9" y2="629.9" stroke="#A3A500" stroke-width="1" opacity="0.75"/>
<line x1="454.3" y1="622.0" x2="454.3" y2="629.9" stroke="#A3A500" stroke-width="1" opacity="0.75"/>
<line x1="456.3" y1="622.0" x2="456.3" y2="629.9" stroke="#A3A500" stroke-width="1" opacity="0.75"/>
<line x1="458.1" y1="622.0" x2="458.1" y2="629.9" stroke="#A3A500" stroke-width="1" opacity="0.75"/>
<line x1="479.9" y1="622.0" x2="479.9" y2="629.9" stroke="#A3A500" stroke-width="1" opacity="0.75"/>
<line x1="494.5" y1="622.0" x2="494.5" y2="629.9" stroke="#A3A500" stroke-width="1" opacity="0.75"/>
<line x1="499.1" y1="622.0" x2="499.1" y2="629.9" stroke="#A3A500" stroke-width="1" opacity="0.75"/>
<line x1="504.2" y1="622.0" x2="504.2" y2="629.9" stroke="#A3A500" stroke-width="1" opacity="0.75"/>
<line x1="511.1" y1="622.0" x2="511.1" y2="629.9" stroke="#A3A500" stroke-width="1" opacity="0.75"/>
<line x1="513.2" y1="622.0" x2="513.2" y2="629.9" stroke="#A3A500" stroke-width="1" opacity="0.75"/>
<line x1="529.3" y1="622.0" x2="529.3" y2="629.9" stroke="#A3A500" stroke-width="1" opacity="0.75"/>
<line x1="534.9" y1="622.0" x2="534.9" y2="629.9" stroke="#A3A500" stroke-width="1" opacity="0.75"/>
<line x1="570.8" y1="622.0" x2="570.8" y2="629.9" stroke="#A3A500" stroke-width="1" opacity="0.75"/>
<line x1="579.2" y1="622.0" x2="579.2" y2="629.9" stroke="#A3A500" stroke-width="1" opacity="0.75"/>
<line x1="587.4" y1="622.0" x2="587.4" y2="629.9" stroke="#A3A500" stroke-width="1" opacity="0.75"/>
<line x1="604.6" y1="622.0" x2="604.6" y2="629.9" stroke="#A3A500" stroke-width="1" opacity="0.75"/>
<line x1="610.4" y1="622.0" x2="610.4" y2="629.9" stroke="#A3A500" stroke-width="1" opacity="0.75"/>
<line x1="635.5" y1="622.0" x2="635.5" y2="629.9" stroke="#A3A500" stroke-width="1" opacity="0.75"/>
<line x1="655.3" y1="622.0" x2="655.3" y2="629.9" stroke="#A3A500" stroke-width="1" opacity="0.75"/>
<line x1="680.4" y1="622.0" x2="680.4" y2="629.9" stroke="#A3A500" stroke-width="1" opacity="0.75"/>
<line x1="695.7" y1="622.0" x2="695.7" y2="629.9" stroke="#A3A500" stroke-width="1" opacity="0.75"/>
<line x1="697.0" y1="622.0" x2="697.0" y2="629.9" stroke="#A3A500" stroke-width="1" opacity="0.75"/>
<line x1="724.4" y1="622.0" x2="724.4" y2="629.9" stroke="#A3A500" stroke-width="1" opacity="0.75"/>
<line x1="742.8" y1="622.0" x2="742.8" y2="629.9" stroke="#A3A500" stroke-width="1" opacity="0.75"/>
<line x1="765.9" y1="622.0" x2="765.9" y2="629.9" stroke="#A3A500" stroke-width="1" opacity="0.75"/>
<line x1="23.8" y1="629.9" x2="23.8" y2="637.8" stroke="#F8766D" stroke-width="1" opacity="0.75"/>
<line x1="37.4" y1="629.9" x2="37.4" y2="637.8" stroke="#F8766D" stroke-width="1" opacity="0.75"/>
<line x1="207.3" y1="629.9" x2="207.3" y2="637.8" stroke="#F8766D" stroke-width="1" opacity="0.75"/>
<line x1="332.6" y1="629.9" x2="332.6" y2="637.8" stroke="#F8766D" stroke-width="1" opacity="0.75"/>
<line x1="352.9" y1="629.9" x2="352.9" y2="637.8" stroke="#F8766D" stroke-width="1" opacity="0.75"/>
<line x1="399.5" y1="629.9" x2="399.5" y2="637.8" stroke="#F8766D" stroke-width="1" opacity="0.75"/>
<line x1="407.4" y1="629.9" x2="407.4" y2="637.8" stroke="#F8766D" stroke-width="1" opacity="0.75"/>
<line x1="422.3" y1="629.9" x2="422.3" y2="637.8" stroke="#F8766D" stroke-width="1" opacity="0.75"/>
<line x1="448.6" y1="629.9" x2="448.6" y2="637.8" stroke="#F8766D" stroke-width="1" opacity="0.75"/>
<line x1="489.3" y1="629.9" x2="489.3" y2="637.8" stroke="#F8766D" stroke-width="1" opacity="0.75"/>
<line x1="517.5" y1="629.9" x2="517.5" y2="637.8" stroke="#F8766D" stroke-width="1" opacity="0.75"/>
<line x1="521.6" y1="629.9" x2="521.6" y2="637.8" stroke="#F8766D" stroke-width="1" opacity="0.75"/>
<line x1="536.7" y1="629.9" x2="536.7" y2="637.8" stroke="#F8766D" stroke-width="1" opacity="0.75"/>
<line x1="560.5" y1="629.9" x2="560.5" y2="637.8" stroke="#F8766D" stroke-width="1" opacity="0.75"/>
<line x1="570.8" y1="629.9" x2="570.8" y2="637.8" stroke="#F8766D" stroke-width="1" opacity="0.75"/>
<line x1="583.0" y1="629.9" x2="583.0" y2="637.8" stroke="#F8766D" stroke-width="1" opacity="0.75"/>
<line x1="587.4" y1="629.9" x2="587.4" y2="637.8" stroke="#F8766D" stroke-width="1" opacity="0.75"/>
<line x1="643.2" y1="629.9" x2="643.2" y2="637.8" stroke="#F8766D" stroke-width="1" opacity="0.75"/>
<line x1="654.0" y1="629.9" x2="654.0" y2="637.8" stroke="#F8766D" stroke-width="1" opacity="0.75"/>
<line x1="23.8" y1="637.8" x2="23.8" y2="645.7" stroke="#00BF7D" stroke-width="1" opacity="0.75"/>
<line x1="37.4" y1="637.8" x2="37.4" y2="645.7" stroke="#00BF7D" stroke-width="1" opacity="0.75"/>
<line x1="87.3" y1="637.8" x2="87.3" y2="645.7" stroke="#00BF7D" stroke-width="1" opacity="0.75"/>
<line x1="207.3" y1="637.8" x2="207.3" y2="645.7" stroke="#00BF7D" stroke-width="1" opacity="0.75"/>
<line x1="332.6" y1="637.8" x2="332.6" y2="645.7" stroke="#00BF7D" stroke-width="1" opacity="0.75"/>
<line x1="352.9" y1="637.8" x2="352.9" y2="645.7" stroke="#00BF7D" stroke-width="1" opacity="0.75"/>
<line x1="399.5" y1="637.8" x2="399.5" y2="645.7" stroke="#00BF7D" stroke-width="1" opacity="0.75"/>
<line x1="407.4" y1="637.8" x2="407.4" y2="645.7" stroke="#00BF7D" stroke-width="1" opacity="0.75"/>
<line x1="422.3" y1="637.8" x2="422.3" y2="645.7" stroke="#00BF7D" stroke-width="1" opacity="0.75"/>
<line x1="448.6" y1="637.8" x2="448.6" y2="645.7" stroke="#00BF7D" stroke-width="1" opacity="0.75"/>
<line x1="489.3" y1="637.8" x2="489.3" y2="645.7" stroke="#00BF7D" stroke-width="1" opacity="0.75"/>
<line x1="517.5" y1="637.8" x2="517.5" y2="645.7" stroke="#00BF7D" stroke-width="1" opacity="0.75"/>
<line x1="521.6" y1="637.8" x2="521.6" y2="645.7" stroke="#00BF7D" stroke-width="1" opacity="0.75"/>
<line x1="536.7" y1="637.8" x2="536.7" y2="645.7" stroke="#00BF7D" stroke-width="1" opacity="0.75"/>
<line x1="560.5" y1="637.8" x2="560.5" y2="645.7" stroke="#00BF7D" stroke-width="1" opacity="0.75"/>
<line x1="570.8" y1="637.8" x2="570.8" y2="645.7" stroke="#00BF7D" stroke-width="1" opacity="0.75"/>
<line x1="583.0" y1="637.8" x2="583.0" y2="645.7" stroke="#00BF7D" stroke-width="1" opacity="0.75"/>
<line x1="587.4" y1="637.8" x2="587.4" y2="645.7" stroke="#00BF7D" stroke-width="1" opacity="0.75"/>
<line x1="643.2" y1="637.8" x2="643.2" y2="645.7" stroke="#00BF7D" stroke-width="1" opacity="0.75"/>

<line x1="23.2" y1="645.7" x2="779.5" y2="645.7" stroke="#8a8a8a" stroke-width="1.1"/>
<line x1="20.599999999999998" y1="375.3" x2="23.2" y2="375.3" stroke="#555" stroke-width="0.8"/>
<text x="19.599999999999998" y="377.4" font-size="6" fill="#4d4d4d" text-anchor="end">0.4</text>
<line x1="20.599999999999998" y1="450.3" x2="23.2" y2="450.3" stroke="#555" stroke-width="0.8"/>
<text x="19.599999999999998" y="452.4" font-size="6" fill="#4d4d4d" text-anchor="end">0.2</text>
<line x1="20.599999999999998" y1="525.3" x2="23.2" y2="525.3" stroke="#555" stroke-width="0.8"/>
<text x="19.599999999999998" y="527.4" font-size="6" fill="#4d4d4d" text-anchor="end">0.0</text>
<line x1="20.599999999999998" y1="600.3" x2="23.2" y2="600.3" stroke="#555" stroke-width="0.8"/>
<text x="19.599999999999998" y="602.4" font-size="6" fill="#4d4d4d" text-anchor="end">-0.2</text>
<line x1="277.5" y1="645.7" x2="277.5" y2="647.7" stroke="#8a8a8a" stroke-width="0.7"/>
<text x="277.5" y="655.0" font-size="7.2" fill="#333" text-anchor="middle">5000</text>
<line x1="532.9" y1="645.7" x2="532.9" y2="647.7" stroke="#8a8a8a" stroke-width="0.7"/>
<text x="532.9" y="655.0" font-size="7.2" fill="#333" text-anchor="middle">10000</text>
<text transform="translate(6.0,464.1) rotate(-90)" font-size="7.0" fill="#222" text-anchor="middle">Running Enrichment Score</text>
<text x="3.3" y="305" font-size="16" font-weight="bold" fill="#000">(j)</text>
<text x="22.7" y="317.6" font-size="8.3" fill="#222">GSE133054: heart failure versus Control</text>
<text x="597.3" y="413.6" font-size="6.8" fill="#F8766D" text-anchor="end">Allograft rejection</text>
<text x="597.3" y="425.8" font-size="6.8" fill="#A3A500" text-anchor="end">B cell receptor signaling pathway</text>
<text x="597.3" y="438.0" font-size="6.8" fill="#00BF7D" text-anchor="end">Graft-versus-host disease</text>
<text x="597.3" y="450.2" font-size="6.8" fill="#00B0F6" text-anchor="end">Natural killer cell mediated cytotoxicity</text>
<text x="597.3" y="462.4" font-size="6.8" fill="#E76BF3" text-anchor="end">Th17 cell differentiation</text>
<rect x="604.2" y="392.5" width="28.09999999999991" height="12.2" fill="#d2d2d2"/>
<rect x="632.3" y="392.5" width="33.60000000000002" height="12.2" fill="#d2d2d2"/>
<text x="606.7" y="401.0" font-size="7" font-weight="bold" fill="#111">pvalue</text>
<text x="634.8" y="401.0" font-size="7" font-weight="bold" fill="#111">p.adjust</text>
<rect x="604.2" y="404.7" width="28.09999999999991" height="12.2" fill="#f0f0f0"/>
<rect x="632.3" y="404.7" width="33.60000000000002" height="12.2" fill="#f0f0f0"/>
<text x="606.7" y="413.8" font-size="7" fill="#222">0.0662</text>
<text x="649.1" y="413.8" font-size="7" fill="#222" text-anchor="middle">0.3387</text>
<rect x="604.2" y="416.9" width="28.09999999999991" height="12.2" fill="#e3e3e3"/>
<rect x="632.3" y="416.9" width="33.60000000000002" height="12.2" fill="#e3e3e3"/>
<text x="606.7" y="426.0" font-size="7" fill="#222">0.9781</text>
<text x="649.1" y="426.0" font-size="7" fill="#222" text-anchor="middle">1</text>
<rect x="604.2" y="429.1" width="28.09999999999991" height="12.2" fill="#f0f0f0"/>
<rect x="632.3" y="429.1" width="33.60000000000002" height="12.2" fill="#f0f0f0"/>
<text x="606.7" y="438.2" font-size="7" fill="#222">0.0594</text>
<text x="649.1" y="438.2" font-size="7" fill="#222" text-anchor="middle">0.3182</text>
<rect x="604.2" y="441.3" width="28.09999999999991" height="12.2" fill="#e3e3e3"/>
<rect x="632.3" y="441.3" width="33.60000000000002" height="12.2" fill="#e3e3e3"/>
<text x="606.7" y="450.4" font-size="7" fill="#222">0.2171</text>
<text x="649.1" y="450.4" font-size="7" fill="#222" text-anchor="middle">0.5915</text>
<rect x="604.2" y="453.5" width="28.09999999999991" height="12.2" fill="#f0f0f0"/>
<rect x="632.3" y="453.5" width="33.60000000000002" height="12.2" fill="#f0f0f0"/>
<text x="606.7" y="462.6" font-size="7" fill="#222">0.7315</text>
<text x="649.1" y="462.6" font-size="7" fill="#222" text-anchor="middle">0.9801</text>
<line x1="604.2" y1="392.5" x2="665.9" y2="392.5" stroke="#fff" stroke-width="0.8"/>
<line x1="604.2" y1="404.7" x2="665.9" y2="404.7" stroke="#fff" stroke-width="0.8"/>
<line x1="604.2" y1="416.9" x2="665.9" y2="416.9" stroke="#fff" stroke-width="0.8"/>
<line x1="604.2" y1="429.1" x2="665.9" y2="429.1" stroke="#fff" stroke-width="0.8"/>
<line x1="604.2" y1="441.3" x2="665.9" y2="441.3" stroke="#fff" stroke-width="0.8"/>
<line x1="604.2" y1="453.5" x2="665.9" y2="453.5" stroke="#fff" stroke-width="0.8"/>
<line x1="604.2" y1="465.7" x2="665.9" y2="465.7" stroke="#fff" stroke-width="0.8"/>
<line x1="604.2" y1="392.5" x2="604.2" y2="465.7" stroke="#fff" stroke-width="0.8"/>
<line x1="632.3" y1="392.5" x2="632.3" y2="465.7" stroke="#fff" stroke-width="0.8"/>
<line x1="665.9" y1="392.5" x2="665.9" y2="465.7" stroke="#fff" stroke-width="0.8"/>
<line x1="149.2" y1="709.7" x2="149.2" y2="992.7" stroke="#f1f1f1" stroke-width="0.9"/>
<line x1="273.7" y1="709.7" x2="273.7" y2="992.7" stroke="#f1f1f1" stroke-width="0.9"/>
<line x1="399" y1="709.7" x2="399" y2="992.7" stroke="#f1f1f1" stroke-width="0.9"/>
<line x1="523.2" y1="709.7" x2="523.2" y2="992.7" stroke="#f1f1f1" stroke-width="0.9"/>
<line x1="648" y1="709.7" x2="648" y2="992.7" stroke="#f1f1f1" stroke-width="0.9"/>
<line x1="24.6" y1="709.7" x2="24.6" y2="1032.4" stroke="#8a8a8a" stroke-width="1.1"/>
<path d="M24.5,790.8L147.5,852.5L147.5,830.2L157.8,835.4L157.8,813.8L212.1,841.0L212.1,827.4L213.3,828.0L213.3,813.3L217.4,815.3L217.4,802.5L228.2,807.9L228.2,795.9L238.9,801.3L238.9,790.2L262.2,801.9L262.2,793.3L277.5,801.0L277.5,795.4L281.6,797.5L281.6,783.1L309.1,796.9L309.1,793.2L348.0,812.7L348.0,812.3L375.1,825.9L375.1,823.7L388.6,830.4L388.6,829.2L396.9,833.3L396.9,829.4L442.0,852.2L442.0,846.5L462.0,856.5L462.0,848.3L585.4,909.7L585.4,893.3L751.5,976.5L751.5,913.4L764.4,919.8L764.4,789.8L765.3,790.4" fill="none" stroke="#F8766D" stroke-width="1.1" stroke-linejoin="miter"/>

<path d="M24.5,790.8L37.5,797.3L37.5,763.8L60.4,775.3L60.4,752.4L78.6,761.6L78.6,742.5L105.7,756.0L105.7,741.6L106.9,742.2L106.9,728.3L121.5,735.6L121.5,722.5L146.5,735.0L146.5,724.1L165.0,733.4L165.0,725.0L190.0,737.5L190.0,730.3L195.8,733.2L195.8,725.3L213.4,734.1L213.4,728.3L220.2,731.7L220.2,725.8L229.5,730.4L229.5,725.0L264.0,742.3L264.0,739.6L269.0,742.1L269.0,738.3L278.3,743.0L278.3,741.5L284.8,744.7L284.8,743.0L286.8,744.0L286.8,741.6L294.2,745.3L294.2,743.0L299.6,745.7L299.6,743.6L304.5,746.0L304.5,744.1L318.0,750.9L318.0,749.6L338.2,759.1L370.7,772.4L390.0,778.2L416.9,791.7L416.9,789.4L419.7,790.8L419.7,789.6L452.5,806.0L452.5,803.5L465.0,809.8L465.0,805.5L477.5,810.8L477.5,808.8L490.0,815.0L490.0,810.3L499.6,815.1L499.6,810.4L507.0,814.1L507.0,809.6L514.6,813.4L514.6,808.3L520.8,811.4L520.8,800.4L534.6,807.5L534.6,803.3L539.6,805.8L539.6,799.1L546.2,802.4L546.2,783.3L551.6,786.0L551.6,778.3L557.9,781.5L557.9,775.8L577.4,785.5L577.4,776.6L579.0,777.4L579.0,763.7L613.5,780.6L613.5,770.0L648.3,787.4L648.3,778.7L668.1,788.6L668.1,777.3L706.5,796.5L706.5,781.4L733.9,795.1L733.9,774.3L765.3,790.4" fill="none" stroke="#A3A500" stroke-width="1.1" stroke-linejoin="miter"/>

<path d="M24.5,790.8L157.8,857.6L157.8,837.6L212.1,864.8L212.1,839.4L217.4,842.0L217.4,827.4L228.2,832.8L228.2,821.0L238.9,826.4L238.9,815.3L262.2,826.9L262.2,819.7L277.3,827.2L277.3,821.0L281.4,823.0L281.4,810.2L308.8,823.9L308.8,819.7L348.0,839.3L348.0,838.4L375.1,851.9L375.1,849.9L388.6,856.6L388.6,855.3L396.9,859.4L396.9,856.3L443.0,879.5L443.0,873.3L462.5,883.0L462.5,875.3L585.4,936.7L585.4,921.4L702.1,979.7L702.1,947.8L751.5,972.5L751.5,909.3L764.4,915.7L764.4,789.8L765.3,790.4" fill="none" stroke="#00BF7D" stroke-width="1.1" stroke-linejoin="miter"/>

<path d="M24.5,790.8L35.3,796.2L35.3,774.9L52.8,783.7L52.8,768.2L88.6,786.2L88.6,776.6L96.2,780.4L96.2,761.6L107.4,767.2L107.4,759.1L117.4,764.1L117.4,756.3L126.5,760.9L126.5,753.6L141.0,760.9L141.0,754.1L165.0,766.1L165.0,760.8L167.5,762.0L167.5,756.9L179.6,763.0L179.6,757.9L213.2,774.7L213.2,771.2L215.7,772.5L215.7,768.2L217.4,769.0L217.4,766.3L229.5,772.4L229.5,769.6L232.4,771.0L232.4,767.4L254.8,778.6L254.8,776.6L262.3,780.4L262.3,777.9L269.2,781.4L269.2,779.1L280.0,783.3L291.6,784.6L298.4,786.9L310.7,791.5L338.4,802.3L372.2,819.2L387.6,824.5L396.9,829.2L417.4,839.4L417.4,838.2L422.5,838.4L452.3,852.4L452.3,851.2L462.0,855.5L462.0,854.3L477.9,862.2L477.9,861.1L480.5,862.4L480.5,858.8L487.6,862.3L487.6,860.1L489.2,860.9L489.2,858.6L490.2,859.1L490.2,855.5L499.4,860.1L499.4,857.7L507.1,861.5L507.1,859.1L514.3,862.7L514.3,859.6L518.9,861.9L518.9,858.1L541.1,868.8L541.1,865.6L546.2,868.1L546.2,862.5L551.3,865.0L551.3,860.0L557.7,863.2L557.7,858.4L578.2,868.6L578.2,865.1L613.5,882.8L613.5,877.6L637.3,889.5L637.3,882.7L639.4,883.8L639.4,878.4L670.1,893.8L670.1,886.6L702.1,902.8L702.1,894.3L707.2,896.9L707.2,878.4L710.3,880.0L710.3,869.9L720.6,875.1L720.6,864.0L733.9,870.7L733.9,859.7L737.2,861.4L737.2,847.7L751.8,855.0L751.8,838.4L755.1,840.0L755.1,820.4L764.4,825.0L764.4,789.8L765.3,790.4" fill="none" stroke="#00B0F6" stroke-width="1.1" stroke-linejoin="miter"/>

<path d="M24.5,790.8L35.8,796.4L35.8,778.2L52.8,786.7L52.8,774.1L60.4,777.9L60.4,766.6L66.6,769.7L66.6,757.9L84.9,767.0L84.9,758.6L91.6,761.9L91.6,752.9L99.1,756.6L99.1,749.1L106.2,752.6L106.2,745.3L121.5,752.9L121.5,746.3L126.5,748.8L126.5,742.4L134.8,746.5L134.8,740.0L135.7,740.4L135.7,735.3L140.2,737.5L140.2,732.0L143.5,733.6L143.5,728.3L146.5,729.8L146.5,724.1L179.6,740.6L179.6,737.0L195.8,745.1L195.8,740.8L196.9,741.3L196.9,738.3L204.1,741.9L204.1,739.1L208.2,741.1L208.2,738.0L211.9,739.9L211.9,734.6L214.1,735.7L214.1,731.3L220.2,734.3L220.2,731.6L228.2,735.6L228.2,732.0L232.4,734.1L232.4,732.5L239.0,735.8L239.0,732.5L264.0,745.0L264.0,743.3L273.5,748.0L273.5,745.0L281.6,749.0L281.6,745.4L298.8,754.0L298.8,752.0L330.0,767.0L360.0,781.5L390.0,796.2L397.2,799.5L397.2,798.5L403.8,801.8L403.8,800.8L441.2,819.5L441.2,817.0L446.6,819.7L446.6,818.5L452.5,821.4L452.5,820.5L462.2,823.0L462.2,821.5L478.3,827.4L478.3,825.7L480.8,826.9L480.8,825.2L496.6,832.9L496.6,830.7L502.5,833.6L502.5,829.1L524.9,840.3L524.9,838.2L542.4,847.0L542.4,843.2L553.2,848.6L553.2,845.7L557.4,847.8L557.4,844.9L578.2,855.3L578.2,851.5L587.3,856.0L587.3,851.2L627.1,871.0L627.1,866.6L639.4,872.7L639.4,867.4L648.3,871.9L648.3,866.9L668.6,877.0L668.6,864.8L679.6,870.3L679.6,864.0L690.6,869.5L690.6,862.3L699.3,866.7L699.3,858.9L705.7,862.1L705.7,854.6L718.5,861.0L718.5,852.0L729.5,857.5L729.5,847.7L733.4,849.7L733.4,840.0L738.5,842.6L738.5,831.5L748.0,836.3L748.0,822.6L757.7,827.5L757.7,810.1L761.5,812.0L761.5,788.3L765.3,790.4" fill="none" stroke="#E76BF3" stroke-width="1.1" stroke-linejoin="miter"/>

<line x1="35.3" y1="992.7" x2="35.3" y2="1000.6" stroke="#E76BF3" stroke-width="1" opacity="0.75"/>
<line x1="53.3" y1="992.7" x2="53.3" y2="1000.6" stroke="#E76BF3" stroke-width="1" opacity="0.75"/>
<line x1="60.9" y1="992.7" x2="60.9" y2="1000.6" stroke="#E76BF3" stroke-width="1" opacity="0.75"/>
<line x1="66.6" y1="992.7" x2="66.6" y2="1000.6" stroke="#E76BF3" stroke-width="1" opacity="0.75"/>
<line x1="85.3" y1="992.7" x2="85.3" y2="1000.6" stroke="#E76BF3" stroke-width="1" opacity="0.75"/>
<line x1="91.4" y1="992.7" x2="91.4" y2="1000.6" stroke="#E76BF3" stroke-width="1" opacity="0.75"/>
<line x1="99.4" y1="992.7" x2="99.4" y2="1000.6" stroke="#E76BF3" stroke-width="1" opacity="0.75"/>
<line x1="106.8" y1="992.7" x2="106.8" y2="1000.6" stroke="#E76BF3" stroke-width="1" opacity="0.75"/>
<line x1="121.6" y1="992.7" x2="121.6" y2="1000.6" stroke="#E76BF3" stroke-width="1" opacity="0.75"/>
<line x1="126.2" y1="992.7" x2="126.2" y2="1000.6" stroke="#E76BF3" stroke-width="1" opacity="0.75"/>
<line x1="134.4" y1="992.7" x2="134.4" y2="1000.6" stroke="#E76BF3" stroke-width="1" opacity="0.75"/>
<line x1="135.7" y1="992.7" x2="135.7" y2="1000.6" stroke="#E76BF3" stroke-width="1" opacity="0.75"/>
<line x1="140.3" y1="992.7" x2="140.3" y2="1000.6" stroke="#E76BF3" stroke-width="1" opacity="0.75"/>
<line x1="143.4" y1="992.7" x2="143.4" y2="1000.6" stroke="#E76BF3" stroke-width="1" opacity="0.75"/>
<line x1="146.5" y1="992.7" x2="146.5" y2="1000.6" stroke="#E76BF3" stroke-width="1" opacity="0.75"/>
<line x1="179.8" y1="992.7" x2="179.8" y2="1000.6" stroke="#E76BF3" stroke-width="1" opacity="0.75"/>
<line x1="195.9" y1="992.7" x2="195.9" y2="1000.6" stroke="#E76BF3" stroke-width="1" opacity="0.75"/>
<line x1="197.2" y1="992.7" x2="197.2" y2="1000.6" stroke="#E76BF3" stroke-width="1" opacity="0.75"/>
<line x1="204.1" y1="992.7" x2="204.1" y2="1000.6" stroke="#E76BF3" stroke-width="1" opacity="0.75"/>
<line x1="208.4" y1="992.7" x2="208.4" y2="1000.6" stroke="#E76BF3" stroke-width="1" opacity="0.75"/>
<line x1="212.5" y1="992.7" x2="212.5" y2="1000.6" stroke="#E76BF3" stroke-width="1" opacity="0.75"/>
<line x1="213.8" y1="992.7" x2="213.8" y2="1000.6" stroke="#E76BF3" stroke-width="1" opacity="0.75"/>
<line x1="214.8" y1="992.7" x2="214.8" y2="1000.6" stroke="#E76BF3" stroke-width="1" opacity="0.75"/>
<line x1="220.2" y1="992.7" x2="220.2" y2="1000.6" stroke="#E76BF3" stroke-width="1" opacity="0.75"/>
<line x1="228.9" y1="992.7" x2="228.9" y2="1000.6" stroke="#E76BF3" stroke-width="1" opacity="0.75"/>
<line x1="233.5" y1="992.7" x2="233.5" y2="1000.6" stroke="#E76BF3" stroke-width="1" opacity="0.75"/>
<line x1="239.2" y1="992.7" x2="239.2" y2="1000.6" stroke="#E76BF3" stroke-width="1" opacity="0.75"/>
<line x1="264.8" y1="992.7" x2="264.8" y2="1000.6" stroke="#E76BF3" stroke-width="1" opacity="0.75"/>
<line x1="273.7" y1="992.7" x2="273.7" y2="1000.6" stroke="#E76BF3" stroke-width="1" opacity="0.75"/>
<line x1="277.6" y1="992.7" x2="277.6" y2="1000.6" stroke="#E76BF3" stroke-width="1" opacity="0.75"/>
<line x1="281.4" y1="992.7" x2="281.4" y2="1000.6" stroke="#E76BF3" stroke-width="1" opacity="0.75"/>
<line x1="284.2" y1="992.7" x2="284.2" y2="1000.6" stroke="#E76BF3" stroke-width="1" opacity="0.75"/>
<line x1="298.8" y1="992.7" x2="298.8" y2="1000.6" stroke="#E76BF3" stroke-width="1" opacity="0.75"/>
<line x1="340.3" y1="992.7" x2="340.3" y2="1000.6" stroke="#E76BF3" stroke-width="1" opacity="0.75"/>
<line x1="344.4" y1="992.7" x2="344.4" y2="1000.6" stroke="#E76BF3" stroke-width="1" opacity="0.75"/>
<line x1="348.0" y1="992.7" x2="348.0" y2="1000.6" stroke="#E76BF3" stroke-width="1" opacity="0.75"/>
<line x1="349.0" y1="992.7" x2="349.0" y2="1000.6" stroke="#E76BF3" stroke-width="1" opacity="0.75"/>
<line x1="364.1" y1="992.7" x2="364.1" y2="1000.6" stroke="#E76BF3" stroke-width="1" opacity="0.75"/>
<line x1="370.5" y1="992.7" x2="370.5" y2="1000.6" stroke="#E76BF3" stroke-width="1" opacity="0.75"/>
<line x1="374.9" y1="992.7" x2="374.9" y2="1000.6" stroke="#E76BF3" stroke-width="1" opacity="0.75"/>
<line x1="397.2" y1="992.7" x2="397.2" y2="1000.6" stroke="#E76BF3" stroke-width="1" opacity="0.75"/>
<line x1="403.8" y1="992.7" x2="403.8" y2="1000.6" stroke="#E76BF3" stroke-width="1" opacity="0.75"/>
<line x1="406.9" y1="992.7" x2="406.9" y2="1000.6" stroke="#E76BF3" stroke-width="1" opacity="0.75"/>
<line x1="442.0" y1="992.7" x2="442.0" y2="1000.6" stroke="#E76BF3" stroke-width="1" opacity="0.75"/>
<line x1="443.5" y1="992.7" x2="443.5" y2="1000.6" stroke="#E76BF3" stroke-width="1" opacity="0.75"/>
<line x1="446.6" y1="992.7" x2="446.6" y2="1000.6" stroke="#E76BF3" stroke-width="1" opacity="0.75"/>
<line x1="452.5" y1="992.7" x2="452.5" y2="1000.6" stroke="#E76BF3" stroke-width="1" opacity="0.75"/>
<line x1="462.5" y1="992.7" x2="462.5" y2="1000.6" stroke="#E76BF3" stroke-width="1" opacity="0.75"/>
<line x1="465.0" y1="992.7" x2="465.0" y2="1000.6" stroke="#E76BF3" stroke-width="1" opacity="0.75"/>
<line x1="478.6" y1="992.7" x2="478.6" y2="1000.6" stroke="#E76BF3" stroke-width="1" opacity="0.75"/>
<line x1="480.4" y1="992.7" x2="480.4" y2="1000.6" stroke="#E76BF3" stroke-width="1" opacity="0.75"/>
<line x1="497.3" y1="992.7" x2="497.3" y2="1000.6" stroke="#E76BF3" stroke-width="1" opacity="0.75"/>
<line x1="499.8" y1="992.7" x2="499.8" y2="1000.6" stroke="#E76BF3" stroke-width="1" opacity="0.75"/>
<line x1="502.2" y1="992.7" x2="502.2" y2="1000.6" stroke="#E76BF3" stroke-width="1" opacity="0.75"/>
<line x1="525.2" y1="992.7" x2="525.2" y2="1000.6" stroke="#E76BF3" stroke-width="1" opacity="0.75"/>
<line x1="542.1" y1="992.7" x2="542.1" y2="1000.6" stroke="#E76BF3" stroke-width="1" opacity="0.75"/>
<line x1="553.4" y1="992.7" x2="553.4" y2="1000.6" stroke="#E76BF3" stroke-width="1" opacity="0.75"/>
<line x1="557.2" y1="992.7" x2="557.2" y2="1000.6" stroke="#E76BF3" stroke-width="1" opacity="0.75"/>
<line x1="587.4" y1="992.7" x2="587.4" y2="1000.6" stroke="#E76BF3" stroke-width="1" opacity="0.75"/>
<line x1="627.1" y1="992.7" x2="627.1" y2="1000.6" stroke="#E76BF3" stroke-width="1" opacity="0.75"/>
<line x1="639.4" y1="992.7" x2="639.4" y2="1000.6" stroke="#E76BF3" stroke-width="1" opacity="0.75"/>
<line x1="648.3" y1="992.7" x2="648.3" y2="1000.6" stroke="#E76BF3" stroke-width="1" opacity="0.75"/>
<line x1="668.6" y1="992.7" x2="668.6" y2="1000.6" stroke="#E76BF3" stroke-width="1" opacity="0.75"/>
<line x1="679.6" y1="992.7" x2="679.6" y2="1000.6" stroke="#E76BF3" stroke-width="1" opacity="0.75"/>
<line x1="690.6" y1="992.7" x2="690.6" y2="1000.6" stroke="#E76BF3" stroke-width="1" opacity="0.75"/>
<line x1="699.3" y1="992.7" x2="699.3" y2="1000.6" stroke="#E76BF3" stroke-width="1" opacity="0.75"/>
<line x1="705.7" y1="992.7" x2="705.7" y2="1000.6" stroke="#E76BF3" stroke-width="1" opacity="0.75"/>
<line x1="718.5" y1="992.7" x2="718.5" y2="1000.6" stroke="#E76BF3" stroke-width="1" opacity="0.75"/>
<line x1="729.5" y1="992.7" x2="729.5" y2="1000.6" stroke="#E76BF3" stroke-width="1" opacity="0.75"/>
<line x1="733.4" y1="992.7" x2="733.4" y2="1000.6" stroke="#E76BF3" stroke-width="1" opacity="0.75"/>
<line x1="738.5" y1="992.7" x2="738.5" y2="1000.6" stroke="#E76BF3" stroke-width="1" opacity="0.75"/>
<line x1="748.0" y1="992.7" x2="748.0" y2="1000.6" stroke="#E76BF3" stroke-width="1" opacity="0.75"/>
<line x1="757.7" y1="992.7" x2="757.7" y2="1000.6" stroke="#E76BF3" stroke-width="1" opacity="0.75"/>
<line x1="761.5" y1="992.7" x2="761.5" y2="1000.6" stroke="#E76BF3" stroke-width="1" opacity="0.75"/>
<line x1="35.3" y1="1000.6" x2="35.3" y2="1008.5" stroke="#00B0F6" stroke-width="1" opacity="0.75"/>
<line x1="53.3" y1="1000.6" x2="53.3" y2="1008.5" stroke="#00B0F6" stroke-width="1" opacity="0.75"/>
<line x1="89.1" y1="1000.6" x2="89.1" y2="1008.5" stroke="#00B0F6" stroke-width="1" opacity="0.75"/>
<line x1="96.5" y1="1000.6" x2="96.5" y2="1008.5" stroke="#00B0F6" stroke-width="1" opacity="0.75"/>
<line x1="107.6" y1="1000.6" x2="107.6" y2="1008.5" stroke="#00B0F6" stroke-width="1" opacity="0.75"/>
<line x1="117.8" y1="1000.6" x2="117.8" y2="1008.5" stroke="#00B0F6" stroke-width="1" opacity="0.75"/>
<line x1="126.2" y1="1000.6" x2="126.2" y2="1008.5" stroke="#00B0F6" stroke-width="1" opacity="0.75"/>
<line x1="140.8" y1="1000.6" x2="140.8" y2="1008.5" stroke="#00B0F6" stroke-width="1" opacity="0.75"/>
<line x1="165.2" y1="1000.6" x2="165.2" y2="1008.5" stroke="#00B0F6" stroke-width="1" opacity="0.75"/>
<line x1="167.7" y1="1000.6" x2="167.7" y2="1008.5" stroke="#00B0F6" stroke-width="1" opacity="0.75"/>
<line x1="179.3" y1="1000.6" x2="179.3" y2="1008.5" stroke="#00B0F6" stroke-width="1" opacity="0.75"/>
<line x1="213.6" y1="1000.6" x2="213.6" y2="1008.5" stroke="#00B0F6" stroke-width="1" opacity="0.75"/>
<line x1="215.1" y1="1000.6" x2="215.1" y2="1008.5" stroke="#00B0F6" stroke-width="1" opacity="0.75"/>
<line x1="216.9" y1="1000.6" x2="216.9" y2="1008.5" stroke="#00B0F6" stroke-width="1" opacity="0.75"/>
<line x1="229.7" y1="1000.6" x2="229.7" y2="1008.5" stroke="#00B0F6" stroke-width="1" opacity="0.75"/>
<line x1="232.3" y1="1000.6" x2="232.3" y2="1008.5" stroke="#00B0F6" stroke-width="1" opacity="0.75"/>
<line x1="255.3" y1="1000.6" x2="255.3" y2="1008.5" stroke="#00B0F6" stroke-width="1" opacity="0.75"/>
<line x1="262.5" y1="1000.6" x2="262.5" y2="1008.5" stroke="#00B0F6" stroke-width="1" opacity="0.75"/>
<line x1="269.4" y1="1000.6" x2="269.4" y2="1008.5" stroke="#00B0F6" stroke-width="1" opacity="0.75"/>
<line x1="279.6" y1="1000.6" x2="279.6" y2="1008.5" stroke="#00B0F6" stroke-width="1" opacity="0.75"/>
<line x1="284.8" y1="1000.6" x2="284.8" y2="1008.5" stroke="#00B0F6" stroke-width="1" opacity="0.75"/>
<line x1="286.8" y1="1000.6" x2="286.8" y2="1008.5" stroke="#00B0F6" stroke-width="1" opacity="0.75"/>
<line x1="291.2" y1="1000.6" x2="291.2" y2="1008.5" stroke="#00B0F6" stroke-width="1" opacity="0.75"/>
<line x1="299.6" y1="1000.6" x2="299.6" y2="1008.5" stroke="#00B0F6" stroke-width="1" opacity="0.75"/>
<line x1="309.1" y1="1000.6" x2="309.1" y2="1008.5" stroke="#00B0F6" stroke-width="1" opacity="0.75"/>
<line x1="317.3" y1="1000.6" x2="317.3" y2="1008.5" stroke="#00B0F6" stroke-width="1" opacity="0.75"/>
<line x1="324.4" y1="1000.6" x2="324.4" y2="1008.5" stroke="#00B0F6" stroke-width="1" opacity="0.75"/>
<line x1="329.1" y1="1000.6" x2="329.1" y2="1008.5" stroke="#00B0F6" stroke-width="1" opacity="0.75"/>
<line x1="338.0" y1="1000.6" x2="338.0" y2="1008.5" stroke="#00B0F6" stroke-width="1" opacity="0.75"/>
<line x1="339.0" y1="1000.6" x2="339.0" y2="1008.5" stroke="#00B0F6" stroke-width="1" opacity="0.75"/>
<line x1="348.8" y1="1000.6" x2="348.8" y2="1008.5" stroke="#00B0F6" stroke-width="1" opacity="0.75"/>
<line x1="361.1" y1="1000.6" x2="361.1" y2="1008.5" stroke="#00B0F6" stroke-width="1" opacity="0.75"/>
<line x1="368.7" y1="1000.6" x2="368.7" y2="1008.5" stroke="#00B0F6" stroke-width="1" opacity="0.75"/>
<line x1="371.3" y1="1000.6" x2="371.3" y2="1008.5" stroke="#00B0F6" stroke-width="1" opacity="0.75"/>
<line x1="374.9" y1="1000.6" x2="374.9" y2="1008.5" stroke="#00B0F6" stroke-width="1" opacity="0.75"/>
<line x1="378.7" y1="1000.6" x2="378.7" y2="1008.5" stroke="#00B0F6" stroke-width="1" opacity="0.75"/>
<line x1="386.9" y1="1000.6" x2="386.9" y2="1008.5" stroke="#00B0F6" stroke-width="1" opacity="0.75"/>
<line x1="389.5" y1="1000.6" x2="389.5" y2="1008.5" stroke="#00B0F6" stroke-width="1" opacity="0.75"/>
<line x1="417.9" y1="1000.6" x2="417.9" y2="1008.5" stroke="#00B0F6" stroke-width="1" opacity="0.75"/>
<line x1="419.7" y1="1000.6" x2="419.7" y2="1008.5" stroke="#00B0F6" stroke-width="1" opacity="0.75"/>
<line x1="423.0" y1="1000.6" x2="423.0" y2="1008.5" stroke="#00B0F6" stroke-width="1" opacity="0.75"/>
<line x1="452.5" y1="1000.6" x2="452.5" y2="1008.5" stroke="#00B0F6" stroke-width="1" opacity="0.75"/>
<line x1="462.5" y1="1000.6" x2="462.5" y2="1008.5" stroke="#00B0F6" stroke-width="1" opacity="0.75"/>
<line x1="478.6" y1="1000.6" x2="478.6" y2="1008.5" stroke="#00B0F6" stroke-width="1" opacity="0.75"/>
<line x1="487.6" y1="1000.6" x2="487.6" y2="1008.5" stroke="#00B0F6" stroke-width="1" opacity="0.75"/>
<line x1="490.1" y1="1000.6" x2="490.1" y2="1008.5" stroke="#00B0F6" stroke-width="1" opacity="0.75"/>
<line x1="499.1" y1="1000.6" x2="499.1" y2="1008.5" stroke="#00B0F6" stroke-width="1" opacity="0.75"/>
<line x1="507.3" y1="1000.6" x2="507.3" y2="1008.5" stroke="#00B0F6" stroke-width="1" opacity="0.75"/>
<line x1="514.4" y1="1000.6" x2="514.4" y2="1008.5" stroke="#00B0F6" stroke-width="1" opacity="0.75"/>
<line x1="519.1" y1="1000.6" x2="519.1" y2="1008.5" stroke="#00B0F6" stroke-width="1" opacity="0.75"/>
<line x1="541.3" y1="1000.6" x2="541.3" y2="1008.5" stroke="#00B0F6" stroke-width="1" opacity="0.75"/>
<line x1="545.9" y1="1000.6" x2="545.9" y2="1008.5" stroke="#00B0F6" stroke-width="1" opacity="0.75"/>
<line x1="547.7" y1="1000.6" x2="547.7" y2="1008.5" stroke="#00B0F6" stroke-width="1" opacity="0.75"/>
<line x1="551.1" y1="1000.6" x2="551.1" y2="1008.5" stroke="#00B0F6" stroke-width="1" opacity="0.75"/>
<line x1="557.2" y1="1000.6" x2="557.2" y2="1008.5" stroke="#00B0F6" stroke-width="1" opacity="0.75"/>
<line x1="613.5" y1="1000.6" x2="613.5" y2="1008.5" stroke="#00B0F6" stroke-width="1" opacity="0.75"/>
<line x1="637.3" y1="1000.6" x2="637.3" y2="1008.5" stroke="#00B0F6" stroke-width="1" opacity="0.75"/>
<line x1="639.4" y1="1000.6" x2="639.4" y2="1008.5" stroke="#00B0F6" stroke-width="1" opacity="0.75"/>
<line x1="670.1" y1="1000.6" x2="670.1" y2="1008.5" stroke="#00B0F6" stroke-width="1" opacity="0.75"/>
<line x1="702.1" y1="1000.6" x2="702.1" y2="1008.5" stroke="#00B0F6" stroke-width="1" opacity="0.75"/>
<line x1="707.2" y1="1000.6" x2="707.2" y2="1008.5" stroke="#00B0F6" stroke-width="1" opacity="0.75"/>
<line x1="708.3" y1="1000.6" x2="708.3" y2="1008.5" stroke="#00B0F6" stroke-width="1" opacity="0.75"/>
<line x1="710.3" y1="1000.6" x2="710.3" y2="1008.5" stroke="#00B0F6" stroke-width="1" opacity="0.75"/>
<line x1="720.6" y1="1000.6" x2="720.6" y2="1008.5" stroke="#00B0F6" stroke-width="1" opacity="0.75"/>
<line x1="733.9" y1="1000.6" x2="733.9" y2="1008.5" stroke="#00B0F6" stroke-width="1" opacity="0.75"/>
<line x1="737.2" y1="1000.6" x2="737.2" y2="1008.5" stroke="#00B0F6" stroke-width="1" opacity="0.75"/>
<line x1="751.8" y1="1000.6" x2="751.8" y2="1008.5" stroke="#00B0F6" stroke-width="1" opacity="0.75"/>
<line x1="755.1" y1="1000.6" x2="755.1" y2="1008.5" stroke="#00B0F6" stroke-width="1" opacity="0.75"/>
<line x1="764.6" y1="1000.6" x2="764.6" y2="1008.5" stroke="#00B0F6" stroke-width="1" opacity="0.75"/>
<line x1="37.6" y1="1008.5" x2="37.6" y2="1016.4" stroke="#A3A500" stroke-width="1" opacity="0.75"/>
<line x1="60.7" y1="1008.5" x2="60.7" y2="1016.4" stroke="#A3A500" stroke-width="1" opacity="0.75"/>
<line x1="78.6" y1="1008.5" x2="78.6" y2="1016.4" stroke="#A3A500" stroke-width="1" opacity="0.75"/>
<line x1="105.5" y1="1008.5" x2="105.5" y2="1016.4" stroke="#A3A500" stroke-width="1" opacity="0.75"/>
<line x1="107.6" y1="1008.5" x2="107.6" y2="1016.4" stroke="#A3A500" stroke-width="1" opacity="0.75"/>
<line x1="121.6" y1="1008.5" x2="121.6" y2="1016.4" stroke="#A3A500" stroke-width="1" opacity="0.75"/>
<line x1="146.5" y1="1008.5" x2="146.5" y2="1016.4" stroke="#A3A500" stroke-width="1" opacity="0.75"/>
<line x1="165.2" y1="1008.5" x2="165.2" y2="1016.4" stroke="#A3A500" stroke-width="1" opacity="0.75"/>
<line x1="190.3" y1="1008.5" x2="190.3" y2="1016.4" stroke="#A3A500" stroke-width="1" opacity="0.75"/>
<line x1="195.9" y1="1008.5" x2="195.9" y2="1016.4" stroke="#A3A500" stroke-width="1" opacity="0.75"/>
<line x1="213.6" y1="1008.5" x2="213.6" y2="1016.4" stroke="#A3A500" stroke-width="1" opacity="0.75"/>
<line x1="220.2" y1="1008.5" x2="220.2" y2="1016.4" stroke="#A3A500" stroke-width="1" opacity="0.75"/>
<line x1="229.7" y1="1008.5" x2="229.7" y2="1016.4" stroke="#A3A500" stroke-width="1" opacity="0.75"/>
<line x1="264.3" y1="1008.5" x2="264.3" y2="1016.4" stroke="#A3A500" stroke-width="1" opacity="0.75"/>
<line x1="278.3" y1="1008.5" x2="278.3" y2="1016.4" stroke="#A3A500" stroke-width="1" opacity="0.75"/>
<line x1="284.8" y1="1008.5" x2="284.8" y2="1016.4" stroke="#A3A500" stroke-width="1" opacity="0.75"/>
<line x1="286.8" y1="1008.5" x2="286.8" y2="1016.4" stroke="#A3A500" stroke-width="1" opacity="0.75"/>
<line x1="294.2" y1="1008.5" x2="294.2" y2="1016.4" stroke="#A3A500" stroke-width="1" opacity="0.75"/>
<line x1="299.6" y1="1008.5" x2="299.6" y2="1016.4" stroke="#A3A500" stroke-width="1" opacity="0.75"/>
<line x1="304.5" y1="1008.5" x2="304.5" y2="1016.4" stroke="#A3A500" stroke-width="1" opacity="0.75"/>
<line x1="318.0" y1="1008.5" x2="318.0" y2="1016.4" stroke="#A3A500" stroke-width="1" opacity="0.75"/>
<line x1="338.0" y1="1008.5" x2="338.0" y2="1016.4" stroke="#A3A500" stroke-width="1" opacity="0.75"/>
<line x1="339.8" y1="1008.5" x2="339.8" y2="1016.4" stroke="#A3A500" stroke-width="1" opacity="0.75"/>
<line x1="343.1" y1="1008.5" x2="343.1" y2="1016.4" stroke="#A3A500" stroke-width="1" opacity="0.75"/>
<line x1="348.8" y1="1008.5" x2="348.8" y2="1016.4" stroke="#A3A500" stroke-width="1" opacity="0.75"/>
<line x1="361.1" y1="1008.5" x2="361.1" y2="1016.4" stroke="#A3A500" stroke-width="1" opacity="0.75"/>
<line x1="362.9" y1="1008.5" x2="362.9" y2="1016.4" stroke="#A3A500" stroke-width="1" opacity="0.75"/>
<line x1="364.7" y1="1008.5" x2="364.7" y2="1016.4" stroke="#A3A500" stroke-width="1" opacity="0.75"/>
<line x1="372.3" y1="1008.5" x2="372.3" y2="1016.4" stroke="#A3A500" stroke-width="1" opacity="0.75"/>
<line x1="374.4" y1="1008.5" x2="374.4" y2="1016.4" stroke="#A3A500" stroke-width="1" opacity="0.75"/>
<line x1="378.2" y1="1008.5" x2="378.2" y2="1016.4" stroke="#A3A500" stroke-width="1" opacity="0.75"/>
<line x1="386.4" y1="1008.5" x2="386.4" y2="1016.4" stroke="#A3A500" stroke-width="1" opacity="0.75"/>
<line x1="417.1" y1="1008.5" x2="417.1" y2="1016.4" stroke="#A3A500" stroke-width="1" opacity="0.75"/>
<line x1="419.7" y1="1008.5" x2="419.7" y2="1016.4" stroke="#A3A500" stroke-width="1" opacity="0.75"/>
<line x1="452.5" y1="1008.5" x2="452.5" y2="1016.4" stroke="#A3A500" stroke-width="1" opacity="0.75"/>
<line x1="465.0" y1="1008.5" x2="465.0" y2="1016.4" stroke="#A3A500" stroke-width="1" opacity="0.75"/>
<line x1="478.6" y1="1008.5" x2="478.6" y2="1016.4" stroke="#A3A500" stroke-width="1" opacity="0.75"/>
<line x1="490.1" y1="1008.5" x2="490.1" y2="1016.4" stroke="#A3A500" stroke-width="1" opacity="0.75"/>
<line x1="499.1" y1="1008.5" x2="499.1" y2="1016.4" stroke="#A3A500" stroke-width="1" opacity="0.75"/>
<line x1="507.3" y1="1008.5" x2="507.3" y2="1016.4" stroke="#A3A500" stroke-width="1" opacity="0.75"/>
<line x1="514.4" y1="1008.5" x2="514.4" y2="1016.4" stroke="#A3A500" stroke-width="1" opacity="0.75"/>
<line x1="520.8" y1="1008.5" x2="520.8" y2="1016.4" stroke="#A3A500" stroke-width="1" opacity="0.75"/>
<line x1="534.9" y1="1008.5" x2="534.9" y2="1016.4" stroke="#A3A500" stroke-width="1" opacity="0.75"/>
<line x1="538.8" y1="1008.5" x2="538.8" y2="1016.4" stroke="#A3A500" stroke-width="1" opacity="0.75"/>
<line x1="541.3" y1="1008.5" x2="541.3" y2="1016.4" stroke="#A3A500" stroke-width="1" opacity="0.75"/>
<line x1="545.9" y1="1008.5" x2="545.9" y2="1016.4" stroke="#A3A500" stroke-width="1" opacity="0.75"/>
<line x1="551.1" y1="1008.5" x2="551.1" y2="1016.4" stroke="#A3A500" stroke-width="1" opacity="0.75"/>
<line x1="556.7" y1="1008.5" x2="556.7" y2="1016.4" stroke="#A3A500" stroke-width="1" opacity="0.75"/>
<line x1="578.5" y1="1008.5" x2="578.5" y2="1016.4" stroke="#A3A500" stroke-width="1" opacity="0.75"/>
<line x1="580.0" y1="1008.5" x2="580.0" y2="1016.4" stroke="#A3A500" stroke-width="1" opacity="0.75"/>
<line x1="613.5" y1="1008.5" x2="613.5" y2="1016.4" stroke="#A3A500" stroke-width="1" opacity="0.75"/>
<line x1="648.3" y1="1008.5" x2="648.3" y2="1016.4" stroke="#A3A500" stroke-width="1" opacity="0.75"/>
<line x1="668.6" y1="1008.5" x2="668.6" y2="1016.4" stroke="#A3A500" stroke-width="1" opacity="0.75"/>
<line x1="707.0" y1="1008.5" x2="707.0" y2="1016.4" stroke="#A3A500" stroke-width="1" opacity="0.75"/>
<line x1="733.9" y1="1008.5" x2="733.9" y2="1016.4" stroke="#A3A500" stroke-width="1" opacity="0.75"/>
<line x1="147.8" y1="1016.4" x2="147.8" y2="1024.3" stroke="#F8766D" stroke-width="1" opacity="0.75"/>
<line x1="158.0" y1="1016.4" x2="158.0" y2="1024.3" stroke="#F8766D" stroke-width="1" opacity="0.75"/>
<line x1="212.5" y1="1016.4" x2="212.5" y2="1024.3" stroke="#F8766D" stroke-width="1" opacity="0.75"/>
<line x1="217.4" y1="1016.4" x2="217.4" y2="1024.3" stroke="#F8766D" stroke-width="1" opacity="0.75"/>
<line x1="228.4" y1="1016.4" x2="228.4" y2="1024.3" stroke="#F8766D" stroke-width="1" opacity="0.75"/>
<line x1="238.7" y1="1016.4" x2="238.7" y2="1024.3" stroke="#F8766D" stroke-width="1" opacity="0.75"/>
<line x1="262.5" y1="1016.4" x2="262.5" y2="1024.3" stroke="#F8766D" stroke-width="1" opacity="0.75"/>
<line x1="277.6" y1="1016.4" x2="277.6" y2="1024.3" stroke="#F8766D" stroke-width="1" opacity="0.75"/>
<line x1="281.4" y1="1016.4" x2="281.4" y2="1024.3" stroke="#F8766D" stroke-width="1" opacity="0.75"/>
<line x1="309.1" y1="1016.4" x2="309.1" y2="1024.3" stroke="#F8766D" stroke-width="1" opacity="0.75"/>
<line x1="348.3" y1="1016.4" x2="348.3" y2="1024.3" stroke="#F8766D" stroke-width="1" opacity="0.75"/>
<line x1="374.4" y1="1016.4" x2="374.4" y2="1024.3" stroke="#F8766D" stroke-width="1" opacity="0.75"/>
<line x1="389.5" y1="1016.4" x2="389.5" y2="1024.3" stroke="#F8766D" stroke-width="1" opacity="0.75"/>
<line x1="397.2" y1="1016.4" x2="397.2" y2="1024.3" stroke="#F8766D" stroke-width="1" opacity="0.75"/>
<line x1="443.3" y1="1016.4" x2="443.3" y2="1024.3" stroke="#F8766D" stroke-width="1" opacity="0.75"/>
<line x1="462.5" y1="1016.4" x2="462.5" y2="1024.3" stroke="#F8766D" stroke-width="1" opacity="0.75"/>
<line x1="585.4" y1="1016.4" x2="585.4" y2="1024.3" stroke="#F8766D" stroke-width="1" opacity="0.75"/>
<line x1="751.8" y1="1016.4" x2="751.8" y2="1024.3" stroke="#F8766D" stroke-width="1" opacity="0.75"/>
<line x1="764.6" y1="1016.4" x2="764.6" y2="1024.3" stroke="#F8766D" stroke-width="1" opacity="0.75"/>
<line x1="158.0" y1="1024.3" x2="158.0" y2="1032.2" stroke="#00BF7D" stroke-width="1" opacity="0.75"/>
<line x1="212.5" y1="1024.3" x2="212.5" y2="1032.2" stroke="#00BF7D" stroke-width="1" opacity="0.75"/>
<line x1="217.4" y1="1024.3" x2="217.4" y2="1032.2" stroke="#00BF7D" stroke-width="1" opacity="0.75"/>
<line x1="228.4" y1="1024.3" x2="228.4" y2="1032.2" stroke="#00BF7D" stroke-width="1" opacity="0.75"/>
<line x1="238.7" y1="1024.3" x2="238.7" y2="1032.2" stroke="#00BF7D" stroke-width="1" opacity="0.75"/>
<line x1="262.5" y1="1024.3" x2="262.5" y2="1032.2" stroke="#00BF7D" stroke-width="1" opacity="0.75"/>
<line x1="277.6" y1="1024.3" x2="277.6" y2="1032.2" stroke="#00BF7D" stroke-width="1" opacity="0.75"/>
<line x1="281.4" y1="1024.3" x2="281.4" y2="1032.2" stroke="#00BF7D" stroke-width="1" opacity="0.75"/>
<line x1="309.1" y1="1024.3" x2="309.1" y2="1032.2" stroke="#00BF7D" stroke-width="1" opacity="0.75"/>
<line x1="348.3" y1="1024.3" x2="348.3" y2="1032.2" stroke="#00BF7D" stroke-width="1" opacity="0.75"/>
<line x1="374.4" y1="1024.3" x2="374.4" y2="1032.2" stroke="#00BF7D" stroke-width="1" opacity="0.75"/>
<line x1="389.5" y1="1024.3" x2="389.5" y2="1032.2" stroke="#00BF7D" stroke-width="1" opacity="0.75"/>
<line x1="397.2" y1="1024.3" x2="397.2" y2="1032.2" stroke="#00BF7D" stroke-width="1" opacity="0.75"/>
<line x1="443.3" y1="1024.3" x2="443.3" y2="1032.2" stroke="#00BF7D" stroke-width="1" opacity="0.75"/>
<line x1="462.5" y1="1024.3" x2="462.5" y2="1032.2" stroke="#00BF7D" stroke-width="1" opacity="0.75"/>
<line x1="585.4" y1="1024.3" x2="585.4" y2="1032.2" stroke="#00BF7D" stroke-width="1" opacity="0.75"/>
<line x1="702.1" y1="1024.3" x2="702.1" y2="1032.2" stroke="#00BF7D" stroke-width="1" opacity="0.75"/>
<line x1="751.8" y1="1024.3" x2="751.8" y2="1032.2" stroke="#00BF7D" stroke-width="1" opacity="0.75"/>
<line x1="764.6" y1="1024.3" x2="764.6" y2="1032.2" stroke="#00BF7D" stroke-width="1" opacity="0.75"/>

<line x1="24.6" y1="1032.4" x2="765.4" y2="1032.4" stroke="#8a8a8a" stroke-width="1.1"/>
<line x1="22.0" y1="715.8" x2="24.6" y2="715.8" stroke="#555" stroke-width="0.8"/>
<text x="21.0" y="717.9" font-size="6" fill="#4d4d4d" text-anchor="end">0.2</text>
<line x1="22.0" y1="790.8" x2="24.6" y2="790.8" stroke="#555" stroke-width="0.8"/>
<text x="21.0" y="792.9" font-size="6" fill="#4d4d4d" text-anchor="end">0.0</text>
<line x1="22.0" y1="865.8" x2="24.6" y2="865.8" stroke="#555" stroke-width="0.8"/>
<text x="21.0" y="867.9" font-size="6" fill="#4d4d4d" text-anchor="end">-0.2</text>
<line x1="22.0" y1="940.8" x2="24.6" y2="940.8" stroke="#555" stroke-width="0.8"/>
<text x="21.0" y="942.9" font-size="6" fill="#4d4d4d" text-anchor="end">-0.4</text>
<line x1="273.7" y1="1032.4" x2="273.7" y2="1034.4" stroke="#8a8a8a" stroke-width="0.7"/>
<text x="273.7" y="1041.7" font-size="7.2" fill="#333" text-anchor="middle">5000</text>
<line x1="522.9" y1="1032.4" x2="522.9" y2="1034.4" stroke="#8a8a8a" stroke-width="0.7"/>
<text x="522.9" y="1041.7" font-size="7.2" fill="#333" text-anchor="middle">10000</text>
<text transform="translate(6.0,851.0500000000001) rotate(-90)" font-size="7.0" fill="#222" text-anchor="middle">Running Enrichment Score</text>
<text x="2" y="688.5" font-size="16" font-weight="bold" fill="#000">(k)</text>
<text x="24.1" y="705.3" font-size="8.3" fill="#222">GSE133054:VCAM1 high versus low</text>
<text x="586.7" y="748.1" font-size="6.8" fill="#F8766D" text-anchor="end">Allograft rejection</text>
<text x="586.7" y="760.3" font-size="6.8" fill="#A3A500" text-anchor="end">B cell receptor signaling pathway</text>
<text x="586.7" y="772.5" font-size="6.8" fill="#00BF7D" text-anchor="end">Graft-versus-host disease</text>
<text x="586.7" y="784.7" font-size="6.8" fill="#00B0F6" text-anchor="end">Natural killer cell mediated cytotoxicity</text>
<text x="586.7" y="796.9" font-size="6.8" fill="#E76BF3" text-anchor="end">Th17 cell differentiation</text>
<rect x="594.3" y="726.4" width="28.200000000000045" height="12.2" fill="#d2d2d2"/>
<rect x="622.5" y="726.4" width="33.299999999999955" height="12.2" fill="#d2d2d2"/>
<text x="596.8" y="734.9" font-size="7" font-weight="bold" fill="#111">pvalue</text>
<text x="625.0" y="734.9" font-size="7" font-weight="bold" fill="#111">p.adjust</text>
<rect x="594.3" y="738.6" width="28.200000000000045" height="12.2" fill="#f0f0f0"/>
<rect x="622.5" y="738.6" width="33.299999999999955" height="12.2" fill="#f0f0f0"/>
<text x="596.8" y="747.7" font-size="7" fill="#222">0.0445</text>
<text x="639.1" y="747.7" font-size="7" fill="#222" text-anchor="middle">0.252</text>
<rect x="594.3" y="750.8" width="28.200000000000045" height="12.2" fill="#e3e3e3"/>
<rect x="622.5" y="750.8" width="33.299999999999955" height="12.2" fill="#e3e3e3"/>
<text x="596.8" y="759.9" font-size="7" fill="#222">0.9776</text>
<text x="639.1" y="759.9" font-size="7" fill="#222" text-anchor="middle">1</text>
<rect x="594.3" y="763.0" width="28.200000000000045" height="12.2" fill="#f0f0f0"/>
<rect x="622.5" y="763.0" width="33.299999999999955" height="12.2" fill="#f0f0f0"/>
<text x="596.8" y="772.1" font-size="7" fill="#222">0.0423</text>
<text x="639.1" y="772.1" font-size="7" fill="#222" text-anchor="middle">0.252</text>
<rect x="594.3" y="775.2" width="28.200000000000045" height="12.2" fill="#e3e3e3"/>
<rect x="622.5" y="775.2" width="33.299999999999955" height="12.2" fill="#e3e3e3"/>
<text x="596.8" y="784.3" font-size="7" fill="#222">0.2228</text>
<text x="639.1" y="784.3" font-size="7" fill="#222" text-anchor="middle">0.5875</text>
<rect x="594.3" y="787.4" width="28.200000000000045" height="12.2" fill="#f0f0f0"/>
<rect x="622.5" y="787.4" width="33.299999999999955" height="12.2" fill="#f0f0f0"/>
<text x="596.8" y="796.5" font-size="7" fill="#222">0.6626</text>
<text x="639.1" y="796.5" font-size="7" fill="#222" text-anchor="middle">0.9299</text>
<line x1="594.3" y1="726.4" x2="655.8" y2="726.4" stroke="#fff" stroke-width="0.8"/>
<line x1="594.3" y1="738.6" x2="655.8" y2="738.6" stroke="#fff" stroke-width="0.8"/>
<line x1="594.3" y1="750.8" x2="655.8" y2="750.8" stroke="#fff" stroke-width="0.8"/>
<line x1="594.3" y1="763.0" x2="655.8" y2="763.0" stroke="#fff" stroke-width="0.8"/>
<line x1="594.3" y1="775.2" x2="655.8" y2="775.2" stroke="#fff" stroke-width="0.8"/>
<line x1="594.3" y1="787.4" x2="655.8" y2="787.4" stroke="#fff" stroke-width="0.8"/>
<line x1="594.3" y1="799.6" x2="655.8" y2="799.6" stroke="#fff" stroke-width="0.8"/>
<line x1="594.3" y1="726.4" x2="594.3" y2="799.6" stroke="#fff" stroke-width="0.8"/>
<line x1="622.5" y1="726.4" x2="622.5" y2="799.6" stroke="#fff" stroke-width="0.8"/>
<line x1="655.8" y1="726.4" x2="655.8" y2="799.6" stroke="#fff" stroke-width="0.8"/>
</svg>
</body></html>
